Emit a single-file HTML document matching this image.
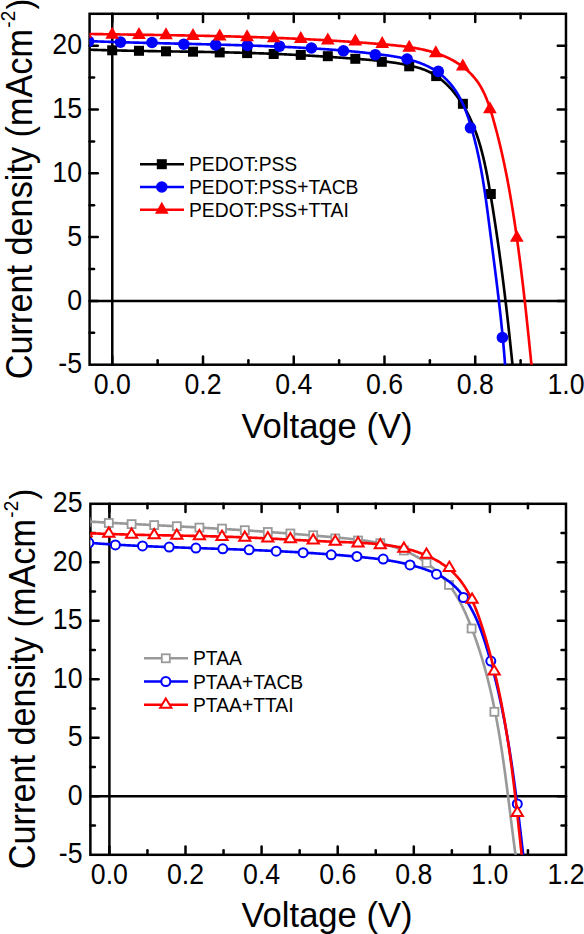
<!DOCTYPE html>
<html><head><meta charset="utf-8"><style>
html,body{margin:0;padding:0;background:#fff;width:584px;height:934px;overflow:hidden}
svg text{font-family:"Liberation Sans", sans-serif;fill:#000}
</style></head><body>
<svg width="584" height="934" viewBox="0 0 584 934" style="position:absolute;left:0;top:0">
<rect width="584" height="934" fill="#fff"/>
<defs><clipPath id="c1"><rect x="89.58" y="13.80" width="476.39" height="350.90"/></clipPath><clipPath id="c2"><rect x="90.38" y="503.80" width="475.62" height="351.00"/></clipPath></defs>
<rect x="89.58" y="13.80" width="476.39" height="350.90" fill="none" stroke="#000" stroke-width="2.5" stroke-linejoin="miter"/>
<line x1="112.27" y1="364.70" x2="112.27" y2="356.50" stroke="#000" stroke-width="2.5" stroke-linecap="round"/>
<line x1="112.27" y1="13.80" x2="112.27" y2="22.00" stroke="#000" stroke-width="2.5" stroke-linecap="round"/>
<line x1="157.64" y1="364.70" x2="157.64" y2="360.20" stroke="#000" stroke-width="2.5" stroke-linecap="round"/>
<line x1="157.64" y1="13.80" x2="157.64" y2="18.30" stroke="#000" stroke-width="2.5" stroke-linecap="round"/>
<line x1="203.01" y1="364.70" x2="203.01" y2="356.50" stroke="#000" stroke-width="2.5" stroke-linecap="round"/>
<line x1="203.01" y1="13.80" x2="203.01" y2="22.00" stroke="#000" stroke-width="2.5" stroke-linecap="round"/>
<line x1="248.38" y1="364.70" x2="248.38" y2="360.20" stroke="#000" stroke-width="2.5" stroke-linecap="round"/>
<line x1="248.38" y1="13.80" x2="248.38" y2="18.30" stroke="#000" stroke-width="2.5" stroke-linecap="round"/>
<line x1="293.75" y1="364.70" x2="293.75" y2="356.50" stroke="#000" stroke-width="2.5" stroke-linecap="round"/>
<line x1="293.75" y1="13.80" x2="293.75" y2="22.00" stroke="#000" stroke-width="2.5" stroke-linecap="round"/>
<line x1="339.12" y1="364.70" x2="339.12" y2="360.20" stroke="#000" stroke-width="2.5" stroke-linecap="round"/>
<line x1="339.12" y1="13.80" x2="339.12" y2="18.30" stroke="#000" stroke-width="2.5" stroke-linecap="round"/>
<line x1="384.49" y1="364.70" x2="384.49" y2="356.50" stroke="#000" stroke-width="2.5" stroke-linecap="round"/>
<line x1="384.49" y1="13.80" x2="384.49" y2="22.00" stroke="#000" stroke-width="2.5" stroke-linecap="round"/>
<line x1="429.86" y1="364.70" x2="429.86" y2="360.20" stroke="#000" stroke-width="2.5" stroke-linecap="round"/>
<line x1="429.86" y1="13.80" x2="429.86" y2="18.30" stroke="#000" stroke-width="2.5" stroke-linecap="round"/>
<line x1="475.23" y1="364.70" x2="475.23" y2="356.50" stroke="#000" stroke-width="2.5" stroke-linecap="round"/>
<line x1="475.23" y1="13.80" x2="475.23" y2="22.00" stroke="#000" stroke-width="2.5" stroke-linecap="round"/>
<line x1="520.60" y1="364.70" x2="520.60" y2="360.20" stroke="#000" stroke-width="2.5" stroke-linecap="round"/>
<line x1="520.60" y1="13.80" x2="520.60" y2="18.30" stroke="#000" stroke-width="2.5" stroke-linecap="round"/>
<line x1="89.58" y1="332.80" x2="94.08" y2="332.80" stroke="#000" stroke-width="2.5" stroke-linecap="round"/>
<line x1="565.97" y1="332.80" x2="561.47" y2="332.80" stroke="#000" stroke-width="2.5" stroke-linecap="round"/>
<line x1="89.58" y1="300.90" x2="97.78" y2="300.90" stroke="#000" stroke-width="2.5" stroke-linecap="round"/>
<line x1="565.97" y1="300.90" x2="557.77" y2="300.90" stroke="#000" stroke-width="2.5" stroke-linecap="round"/>
<line x1="89.58" y1="269.00" x2="94.08" y2="269.00" stroke="#000" stroke-width="2.5" stroke-linecap="round"/>
<line x1="565.97" y1="269.00" x2="561.47" y2="269.00" stroke="#000" stroke-width="2.5" stroke-linecap="round"/>
<line x1="89.58" y1="237.10" x2="97.78" y2="237.10" stroke="#000" stroke-width="2.5" stroke-linecap="round"/>
<line x1="565.97" y1="237.10" x2="557.77" y2="237.10" stroke="#000" stroke-width="2.5" stroke-linecap="round"/>
<line x1="89.58" y1="205.20" x2="94.08" y2="205.20" stroke="#000" stroke-width="2.5" stroke-linecap="round"/>
<line x1="565.97" y1="205.20" x2="561.47" y2="205.20" stroke="#000" stroke-width="2.5" stroke-linecap="round"/>
<line x1="89.58" y1="173.30" x2="97.78" y2="173.30" stroke="#000" stroke-width="2.5" stroke-linecap="round"/>
<line x1="565.97" y1="173.30" x2="557.77" y2="173.30" stroke="#000" stroke-width="2.5" stroke-linecap="round"/>
<line x1="89.58" y1="141.40" x2="94.08" y2="141.40" stroke="#000" stroke-width="2.5" stroke-linecap="round"/>
<line x1="565.97" y1="141.40" x2="561.47" y2="141.40" stroke="#000" stroke-width="2.5" stroke-linecap="round"/>
<line x1="89.58" y1="109.50" x2="97.78" y2="109.50" stroke="#000" stroke-width="2.5" stroke-linecap="round"/>
<line x1="565.97" y1="109.50" x2="557.77" y2="109.50" stroke="#000" stroke-width="2.5" stroke-linecap="round"/>
<line x1="89.58" y1="77.60" x2="94.08" y2="77.60" stroke="#000" stroke-width="2.5" stroke-linecap="round"/>
<line x1="565.97" y1="77.60" x2="561.47" y2="77.60" stroke="#000" stroke-width="2.5" stroke-linecap="round"/>
<line x1="89.58" y1="45.70" x2="97.78" y2="45.70" stroke="#000" stroke-width="2.5" stroke-linecap="round"/>
<line x1="565.97" y1="45.70" x2="557.77" y2="45.70" stroke="#000" stroke-width="2.5" stroke-linecap="round"/>
<g clip-path="url(#c1)">
<line x1="89.58" y1="300.90" x2="565.97" y2="300.90" stroke="#000" stroke-width="2.5"/>
<line x1="112.27" y1="13.80" x2="112.27" y2="364.70" stroke="#000" stroke-width="2.5"/>
<path d="M84.54,49.51 L85.50,49.55 L86.46,49.58 L87.42,49.62 L88.38,49.65 L89.35,49.68 L90.31,49.71 L91.27,49.74 L92.23,49.78 L93.20,49.81 L94.16,49.84 L95.12,49.87 L96.08,49.90 L97.05,49.93 L98.01,49.96 L98.97,49.98 L99.94,50.01 L100.90,50.04 L101.86,50.07 L102.83,50.10 L103.79,50.12 L104.75,50.15 L105.72,50.18 L106.68,50.20 L107.64,50.23 L108.61,50.25 L109.57,50.28 L110.54,50.30 L111.50,50.33 L112.47,50.35 L113.43,50.37 L114.40,50.40 L115.36,50.42 L116.33,50.44 L117.29,50.47 L118.26,50.49 L119.22,50.51 L120.19,50.53 L121.15,50.55 L122.12,50.57 L123.08,50.60 L124.05,50.62 L125.01,50.64 L125.98,50.66 L126.95,50.68 L127.91,50.70 L128.88,50.72 L129.84,50.74 L130.81,50.76 L131.78,50.77 L132.74,50.79 L133.71,50.81 L134.67,50.83 L135.64,50.85 L136.61,50.87 L137.57,50.88 L138.54,50.90 L139.51,50.92 L140.47,50.94 L141.44,50.95 L142.41,50.97 L143.37,50.99 L144.34,51.00 L145.31,51.02 L146.28,51.04 L147.24,51.05 L148.21,51.07 L149.18,51.09 L150.14,51.10 L151.11,51.12 L152.08,51.13 L153.05,51.15 L154.01,51.16 L154.98,51.18 L155.95,51.19 L156.92,51.21 L157.88,51.23 L158.85,51.24 L159.82,51.26 L160.79,51.27 L161.76,51.28 L162.72,51.30 L163.69,51.31 L164.66,51.33 L165.63,51.34 L166.59,51.36 L167.56,51.37 L168.53,51.39 L169.50,51.40 L170.47,51.42 L171.43,51.43 L172.40,51.45 L173.37,51.46 L174.34,51.47 L175.31,51.49 L176.27,51.50 L177.24,51.52 L178.21,51.53 L179.18,51.55 L180.15,51.56 L181.11,51.58 L182.08,51.59 L183.05,51.61 L184.02,51.62 L184.99,51.64 L185.96,51.65 L186.92,51.67 L187.89,51.68 L188.86,51.70 L189.83,51.71 L190.80,51.73 L191.76,51.74 L192.73,51.76 L193.70,51.77 L194.67,51.79 L195.64,51.80 L196.60,51.82 L197.57,51.84 L198.54,51.85 L199.51,51.87 L200.48,51.88 L201.44,51.90 L202.41,51.92 L203.38,51.93 L204.35,51.95 L205.31,51.97 L206.28,51.98 L207.25,52.00 L208.22,52.02 L209.18,52.04 L210.15,52.05 L211.12,52.07 L212.09,52.09 L213.06,52.11 L214.02,52.13 L214.99,52.15 L215.96,52.17 L216.92,52.18 L217.89,52.20 L218.86,52.22 L219.83,52.24 L220.79,52.26 L221.76,52.28 L222.73,52.30 L223.69,52.33 L224.66,52.35 L225.63,52.37 L226.60,52.39 L227.56,52.41 L228.53,52.43 L229.50,52.46 L230.46,52.48 L231.43,52.50 L232.40,52.52 L233.36,52.55 L234.33,52.57 L235.29,52.60 L236.26,52.62 L237.23,52.64 L238.19,52.67 L239.16,52.69 L240.12,52.72 L241.09,52.75 L242.06,52.77 L243.02,52.80 L243.99,52.83 L244.95,52.85 L245.92,52.88 L246.88,52.91 L247.85,52.94 L248.81,52.97 L249.78,52.99 L250.74,53.02 L251.71,53.05 L252.67,53.08 L253.64,53.11 L254.60,53.15 L255.57,53.18 L256.53,53.21 L257.50,53.24 L258.46,53.27 L259.43,53.31 L260.39,53.34 L261.35,53.37 L262.32,53.41 L263.28,53.44 L264.24,53.48 L265.21,53.51 L266.17,53.55 L267.13,53.59 L268.10,53.62 L269.06,53.66 L270.02,53.70 L270.99,53.74 L271.95,53.78 L272.91,53.82 L273.87,53.86 L274.84,53.90 L275.80,53.94 L276.76,53.98 L277.72,54.02 L278.69,54.06 L279.65,54.10 L280.61,54.15 L281.57,54.19 L282.53,54.24 L283.49,54.28 L284.46,54.33 L285.42,54.37 L286.38,54.42 L287.34,54.46 L288.30,54.51 L289.26,54.56 L290.22,54.61 L291.18,54.65 L292.14,54.70 L293.11,54.75 L294.07,54.80 L295.03,54.85 L295.99,54.90 L296.95,54.95 L297.91,55.00 L298.87,55.06 L299.83,55.11 L300.79,55.16 L301.76,55.21 L302.72,55.27 L303.68,55.32 L304.64,55.38 L305.60,55.43 L306.56,55.49 L307.52,55.54 L308.48,55.60 L309.44,55.65 L310.41,55.71 L311.37,55.77 L312.33,55.82 L313.29,55.88 L314.25,55.94 L315.21,56.00 L316.18,56.06 L317.14,56.12 L318.10,56.18 L319.06,56.24 L320.02,56.30 L320.99,56.36 L321.95,56.42 L322.91,56.48 L323.87,56.54 L324.84,56.61 L325.80,56.67 L326.76,56.73 L327.73,56.80 L328.69,56.86 L329.65,56.92 L330.62,56.99 L331.58,57.05 L332.55,57.12 L333.51,57.19 L334.48,57.25 L335.44,57.32 L336.41,57.38 L337.37,57.45 L338.34,57.52 L339.30,57.59 L340.27,57.65 L341.23,57.72 L342.20,57.79 L343.17,57.86 L344.13,57.93 L345.10,58.00 L346.07,58.07 L347.03,58.14 L348.00,58.21 L348.97,58.28 L349.94,58.35 L350.91,58.42 L351.87,58.49 L352.84,58.57 L353.81,58.64 L354.78,58.71 L355.75,58.78 L356.72,58.86 L357.69,58.93 L358.66,59.00 L359.63,59.08 L360.61,59.15 L361.58,59.23 L362.55,59.31 L363.52,59.38 L364.49,59.46 L365.46,59.54 L366.43,59.62 L367.41,59.70 L368.38,59.79 L369.35,59.87 L370.32,59.96 L371.29,60.04 L372.26,60.13 L373.24,60.22 L374.21,60.31 L375.18,60.41 L376.15,60.50 L377.12,60.60 L378.09,60.70 L379.06,60.80 L380.03,60.90 L381.00,61.01 L381.97,61.12 L382.94,61.23 L383.91,61.34 L384.88,61.46 L385.84,61.57 L386.81,61.69 L387.78,61.82 L388.75,61.94 L389.71,62.07 L390.68,62.20 L391.64,62.34 L392.61,62.48 L393.57,62.62 L394.53,62.76 L395.50,62.91 L396.46,63.06 L397.42,63.22 L398.38,63.38 L399.34,63.54 L400.30,63.70 L401.26,63.87 L402.22,64.05 L403.17,64.22 L404.13,64.40 L405.08,64.59 L406.04,64.78 L406.99,64.97 L407.94,65.17 L408.90,65.37 L409.85,65.58 L410.80,65.79 L411.74,66.01 L412.69,66.23 L413.63,66.46 L414.57,66.69 L415.51,66.94 L416.45,67.19 L417.38,67.45 L418.31,67.71 L419.23,67.99 L420.15,68.28 L421.06,68.57 L421.97,68.88 L422.87,69.20 L423.77,69.53 L424.66,69.88 L425.54,70.23 L426.41,70.61 L427.28,70.99 L428.14,71.39 L428.99,71.80 L429.84,72.22 L430.68,72.65 L431.51,73.10 L432.33,73.56 L433.15,74.03 L433.96,74.52 L434.76,75.01 L435.55,75.52 L436.34,76.04 L437.12,76.56 L437.89,77.10 L438.66,77.65 L439.42,78.22 L440.17,78.79 L440.92,79.37 L441.66,79.96 L442.39,80.56 L443.11,81.17 L443.83,81.79 L444.54,82.42 L445.24,83.05 L445.94,83.70 L446.63,84.36 L447.31,85.02 L447.99,85.69 L448.66,86.37 L449.32,87.06 L449.97,87.75 L450.62,88.46 L451.26,89.17 L451.90,89.88 L452.52,90.61 L453.14,91.34 L453.76,92.07 L454.37,92.82 L454.97,93.57 L455.56,94.32 L456.15,95.08 L456.73,95.85 L457.30,96.62 L457.87,97.40 L458.43,98.18 L458.98,98.97 L459.53,99.76 L460.07,100.55 L460.61,101.35 L461.13,102.16 L461.66,102.96 L462.17,103.78 L462.68,104.59 L463.18,105.41 L463.68,106.23 L464.16,107.06 L464.65,107.89 L465.12,108.72 L465.59,109.55 L466.06,110.39 L466.51,111.23 L466.97,112.08 L467.41,112.92 L467.85,113.77 L468.29,114.63 L468.72,115.48 L469.14,116.34 L469.56,117.20 L469.97,118.07 L470.37,118.94 L470.77,119.81 L471.17,120.68 L471.56,121.55 L471.94,122.43 L472.32,123.31 L472.70,124.20 L473.07,125.08 L473.43,125.97 L473.79,126.86 L474.15,127.75 L474.50,128.65 L474.84,129.55 L475.18,130.45 L475.52,131.35 L475.85,132.25 L476.17,133.16 L476.50,134.07 L476.81,134.98 L477.13,135.89 L477.44,136.81 L477.74,137.73 L478.04,138.64 L478.34,139.56 L478.63,140.49 L478.92,141.41 L479.20,142.34 L479.48,143.27 L479.76,144.20 L480.03,145.13 L480.30,146.06 L480.57,146.99 L480.83,147.93 L481.09,148.87 L481.34,149.81 L481.59,150.75 L481.84,151.69 L482.09,152.63 L482.33,153.57 L482.57,154.52 L482.80,155.47 L483.04,156.42 L483.27,157.36 L483.49,158.31 L483.72,159.27 L483.94,160.22 L484.16,161.17 L484.37,162.13 L484.59,163.08 L484.80,164.04 L485.00,164.99 L485.21,165.95 L485.41,166.91 L485.62,167.87 L485.81,168.83 L486.01,169.79 L486.21,170.75 L486.40,171.71 L486.59,172.68 L486.78,173.64 L486.96,174.60 L487.15,175.57 L487.33,176.53 L487.51,177.50 L487.69,178.46 L487.87,179.43 L488.05,180.39 L488.23,181.36 L488.40,182.32 L488.57,183.29 L488.74,184.25 L488.91,185.22 L489.08,186.19 L489.25,187.15 L489.42,188.12 L489.58,189.08 L489.75,190.05 L489.91,191.02 L490.08,191.98 L490.24,192.95 L490.40,193.91 L490.56,194.87 L490.73,195.84 L490.89,196.80 L491.05,197.76 L491.21,198.73 L491.36,199.69 L491.52,200.65 L491.68,201.61 L491.84,202.58 L491.99,203.54 L492.15,204.50 L492.31,205.46 L492.46,206.42 L492.61,207.38 L492.77,208.34 L492.92,209.30 L493.07,210.26 L493.23,211.22 L493.38,212.17 L493.53,213.13 L493.68,214.09 L493.83,215.05 L493.98,216.01 L494.13,216.96 L494.28,217.92 L494.43,218.88 L494.57,219.83 L494.72,220.79 L494.87,221.75 L495.01,222.70 L495.16,223.66 L495.30,224.61 L495.45,225.57 L495.59,226.52 L495.74,227.48 L495.88,228.43 L496.02,229.39 L496.16,230.34 L496.30,231.30 L496.45,232.25 L496.59,233.20 L496.73,234.16 L496.87,235.11 L497.00,236.06 L497.14,237.02 L497.28,237.97 L497.42,238.92 L497.56,239.87 L497.69,240.83 L497.83,241.78 L497.97,242.73 L498.10,243.68 L498.24,244.64 L498.37,245.59 L498.51,246.54 L498.64,247.49 L498.77,248.44 L498.91,249.39 L499.04,250.34 L499.17,251.30 L499.30,252.25 L499.43,253.20 L499.56,254.15 L499.69,255.10 L499.82,256.05 L499.95,257.00 L500.08,257.95 L500.21,258.90 L500.34,259.85 L500.47,260.80 L500.60,261.76 L500.72,262.71 L500.85,263.66 L500.98,264.61 L501.10,265.56 L501.23,266.51 L501.35,267.46 L501.48,268.41 L501.60,269.36 L501.72,270.31 L501.85,271.26 L501.97,272.21 L502.09,273.16 L502.22,274.11 L502.34,275.06 L502.46,276.01 L502.58,276.96 L502.70,277.91 L502.82,278.86 L502.94,279.82 L503.06,280.77 L503.18,281.72 L503.30,282.67 L503.42,283.62 L503.54,284.57 L503.66,285.52 L503.78,286.47 L503.89,287.42 L504.01,288.37 L504.13,289.33 L504.24,290.28 L504.36,291.23 L504.48,292.18 L504.59,293.13 L504.71,294.08 L504.82,295.04 L504.94,295.99 L505.05,296.94 L505.16,297.89 L505.28,298.85 L505.39,299.80 L505.50,300.75 L505.62,301.71 L505.73,302.66 L505.84,303.61 L505.95,304.57 L506.07,305.52 L506.18,306.47 L506.29,307.43 L506.40,308.38 L506.51,309.34 L506.62,310.29 L506.73,311.25 L506.84,312.20 L506.95,313.16 L507.06,314.11 L507.17,315.07 L507.27,316.02 L507.38,316.98 L507.49,317.94 L507.60,318.89 L507.71,319.85 L507.81,320.81 L507.92,321.76 L508.03,322.72 L508.13,323.68 L508.24,324.64 L508.35,325.60 L508.45,326.56 L508.56,327.51 L508.66,328.47 L508.77,329.43 L508.87,330.39 L508.98,331.35 L509.08,332.31 L509.19,333.27 L509.29,334.24 L509.40,335.20 L509.50,336.16 L509.60,337.12 L509.71,338.08 L509.81,339.05 L509.91,340.01 L510.01,340.97 L510.12,341.94 L510.22,342.90 L510.32,343.86 L510.42,344.83 L510.53,345.79 L510.63,346.76 L510.73,347.73 L510.83,348.69 L510.93,349.66 L511.03,350.63 L511.13,351.59 L511.23,352.56 L511.33,353.53 L511.43,354.50 L511.53,355.47 L511.63,356.44 L511.73,357.41 L511.83,358.38 L511.93,359.35 L512.03,360.32 L512.13,361.29 L512.23,362.26 L512.33,363.23 L512.43,364.21 L512.52,365.18 L512.62,366.15 L512.72,367.13 L512.82,368.10 L512.92,369.08 L513.02,370.05 L513.11,371.03 L513.21,372.01 L513.31,372.98 L513.41,373.96 L513.50,374.94 L513.60,375.92 L513.70,376.90 L513.79,377.88 L513.89,378.86 L513.99,379.84" fill="none" stroke="#000" stroke-width="2.65"/>
<rect x="80.20" y="45.00" width="10" height="10" fill="#000" stroke="none" stroke-width="0"/>
<rect x="107.20" y="45.30" width="10" height="10" fill="#000" stroke="none" stroke-width="0"/>
<rect x="134.00" y="45.80" width="10" height="10" fill="#000" stroke="none" stroke-width="0"/>
<rect x="161.00" y="46.30" width="10" height="10" fill="#000" stroke="none" stroke-width="0"/>
<rect x="188.00" y="46.70" width="10" height="10" fill="#000" stroke="none" stroke-width="0"/>
<rect x="214.70" y="47.40" width="10" height="10" fill="#000" stroke="none" stroke-width="0"/>
<rect x="242.10" y="48.10" width="10" height="10" fill="#000" stroke="none" stroke-width="0"/>
<rect x="268.70" y="49.00" width="10" height="10" fill="#000" stroke="none" stroke-width="0"/>
<rect x="295.80" y="49.90" width="10" height="10" fill="#000" stroke="none" stroke-width="0"/>
<rect x="322.80" y="51.20" width="10" height="10" fill="#000" stroke="none" stroke-width="0"/>
<rect x="350.30" y="53.80" width="10" height="10" fill="#000" stroke="none" stroke-width="0"/>
<rect x="376.80" y="56.80" width="10" height="10" fill="#000" stroke="none" stroke-width="0"/>
<rect x="404.20" y="61.30" width="10" height="10" fill="#000" stroke="none" stroke-width="0"/>
<rect x="431.20" y="71.10" width="10" height="10" fill="#000" stroke="none" stroke-width="0"/>
<rect x="457.90" y="98.80" width="10" height="10" fill="#000" stroke="none" stroke-width="0"/>
<rect x="485.80" y="189.00" width="10" height="10" fill="#000" stroke="none" stroke-width="0"/>
<path d="M84.57,40.97 L85.53,41.00 L86.49,41.04 L87.45,41.08 L88.41,41.12 L89.37,41.15 L90.34,41.19 L91.30,41.22 L92.26,41.26 L93.22,41.30 L94.19,41.33 L95.15,41.37 L96.11,41.40 L97.08,41.43 L98.04,41.47 L99.00,41.50 L99.97,41.54 L100.93,41.57 L101.90,41.60 L102.86,41.63 L103.83,41.67 L104.79,41.70 L105.76,41.73 L106.72,41.76 L107.69,41.79 L108.66,41.82 L109.62,41.86 L110.59,41.89 L111.56,41.92 L112.52,41.95 L113.49,41.98 L114.46,42.01 L115.42,42.04 L116.39,42.07 L117.36,42.09 L118.33,42.12 L119.29,42.15 L120.26,42.18 L121.23,42.21 L122.20,42.24 L123.17,42.26 L124.14,42.29 L125.11,42.32 L126.08,42.35 L127.05,42.37 L128.01,42.40 L128.98,42.43 L129.95,42.46 L130.92,42.48 L131.89,42.51 L132.86,42.53 L133.83,42.56 L134.81,42.59 L135.78,42.61 L136.75,42.64 L137.72,42.66 L138.69,42.69 L139.66,42.71 L140.63,42.74 L141.60,42.76 L142.57,42.79 L143.54,42.81 L144.52,42.84 L145.49,42.86 L146.46,42.89 L147.43,42.91 L148.40,42.93 L149.38,42.96 L150.35,42.98 L151.32,43.01 L152.29,43.03 L153.26,43.05 L154.24,43.08 L155.21,43.10 L156.18,43.12 L157.16,43.15 L158.13,43.17 L159.10,43.19 L160.07,43.22 L161.05,43.24 L162.02,43.26 L162.99,43.29 L163.97,43.31 L164.94,43.33 L165.91,43.35 L166.89,43.38 L167.86,43.40 L168.83,43.42 L169.81,43.44 L170.78,43.47 L171.75,43.49 L172.73,43.51 L173.70,43.54 L174.67,43.56 L175.65,43.58 L176.62,43.60 L177.59,43.63 L178.57,43.65 L179.54,43.67 L180.52,43.69 L181.49,43.72 L182.46,43.74 L183.44,43.76 L184.41,43.78 L185.38,43.81 L186.36,43.83 L187.33,43.85 L188.31,43.88 L189.28,43.90 L190.25,43.92 L191.23,43.94 L192.20,43.97 L193.17,43.99 L194.15,44.01 L195.12,44.04 L196.10,44.06 L197.07,44.08 L198.04,44.11 L199.02,44.13 L199.99,44.15 L200.96,44.18 L201.94,44.20 L202.91,44.22 L203.88,44.25 L204.86,44.27 L205.83,44.30 L206.80,44.32 L207.78,44.34 L208.75,44.37 L209.72,44.39 L210.69,44.42 L211.67,44.44 L212.64,44.47 L213.61,44.49 L214.59,44.52 L215.56,44.54 L216.53,44.57 L217.50,44.59 L218.48,44.62 L219.45,44.64 L220.42,44.67 L221.39,44.70 L222.36,44.72 L223.34,44.75 L224.31,44.78 L225.28,44.80 L226.25,44.83 L227.22,44.86 L228.19,44.88 L229.16,44.91 L230.14,44.94 L231.11,44.97 L232.08,44.99 L233.05,45.02 L234.02,45.05 L234.99,45.08 L235.96,45.11 L236.93,45.14 L237.90,45.17 L238.87,45.19 L239.84,45.22 L240.81,45.25 L241.78,45.28 L242.75,45.31 L243.72,45.35 L244.69,45.38 L245.66,45.41 L246.63,45.44 L247.59,45.47 L248.56,45.50 L249.53,45.53 L250.50,45.57 L251.47,45.60 L252.44,45.63 L253.40,45.66 L254.37,45.70 L255.34,45.73 L256.30,45.76 L257.27,45.80 L258.24,45.83 L259.21,45.87 L260.17,45.90 L261.14,45.94 L262.10,45.97 L263.07,46.01 L264.04,46.04 L265.00,46.08 L265.97,46.12 L266.93,46.15 L267.90,46.19 L268.86,46.23 L269.82,46.27 L270.79,46.31 L271.75,46.34 L272.72,46.38 L273.68,46.42 L274.64,46.46 L275.61,46.50 L276.57,46.54 L277.53,46.58 L278.49,46.62 L279.46,46.67 L280.42,46.71 L281.38,46.75 L282.34,46.79 L283.30,46.84 L284.26,46.88 L285.22,46.92 L286.18,46.97 L287.15,47.01 L288.11,47.06 L289.07,47.10 L290.03,47.15 L290.99,47.19 L291.95,47.24 L292.90,47.29 L293.86,47.33 L294.82,47.38 L295.78,47.43 L296.74,47.48 L297.70,47.53 L298.66,47.58 L299.62,47.63 L300.58,47.68 L301.54,47.73 L302.50,47.79 L303.46,47.84 L304.42,47.89 L305.38,47.95 L306.33,48.00 L307.29,48.06 L308.25,48.11 L309.21,48.17 L310.17,48.22 L311.13,48.28 L312.09,48.34 L313.05,48.40 L314.01,48.46 L314.97,48.52 L315.93,48.58 L316.89,48.64 L317.85,48.70 L318.81,48.76 L319.78,48.83 L320.74,48.89 L321.70,48.96 L322.66,49.02 L323.62,49.09 L324.58,49.16 L325.55,49.22 L326.51,49.29 L327.47,49.36 L328.43,49.43 L329.40,49.50 L330.36,49.57 L331.33,49.65 L332.29,49.72 L333.25,49.79 L334.22,49.87 L335.19,49.94 L336.15,50.02 L337.12,50.10 L338.08,50.18 L339.05,50.25 L340.02,50.33 L340.99,50.41 L341.95,50.50 L342.92,50.58 L343.89,50.66 L344.86,50.75 L345.83,50.83 L346.80,50.92 L347.77,51.00 L348.74,51.09 L349.72,51.18 L350.69,51.27 L351.66,51.36 L352.64,51.45 L353.61,51.55 L354.59,51.64 L355.56,51.73 L356.54,51.83 L357.51,51.93 L358.49,52.02 L359.47,52.12 L360.45,52.22 L361.43,52.32 L362.41,52.42 L363.39,52.53 L364.37,52.63 L365.35,52.74 L366.33,52.84 L367.31,52.95 L368.30,53.06 L369.28,53.17 L370.27,53.28 L371.25,53.39 L372.24,53.50 L373.23,53.62 L374.22,53.73 L375.21,53.85 L376.20,53.96 L377.19,54.08 L378.18,54.20 L379.17,54.32 L380.16,54.45 L381.15,54.57 L382.15,54.70 L383.14,54.83 L384.13,54.96 L385.12,55.10 L386.11,55.23 L387.10,55.37 L388.09,55.51 L389.08,55.66 L390.07,55.81 L391.06,55.96 L392.05,56.12 L393.03,56.28 L394.01,56.44 L395.00,56.61 L395.98,56.78 L396.95,56.95 L397.93,57.13 L398.91,57.32 L399.88,57.51 L400.85,57.70 L401.82,57.90 L402.78,58.11 L403.74,58.32 L404.70,58.53 L405.66,58.75 L406.61,58.98 L407.56,59.21 L408.51,59.45 L409.46,59.69 L410.40,59.95 L411.33,60.20 L412.27,60.47 L413.20,60.74 L414.12,61.02 L415.04,61.30 L415.96,61.60 L416.87,61.90 L417.78,62.20 L418.68,62.52 L419.58,62.84 L420.47,63.18 L421.36,63.51 L422.24,63.86 L423.12,64.22 L423.99,64.58 L424.86,64.96 L425.72,65.34 L426.58,65.73 L427.43,66.13 L428.27,66.54 L429.11,66.96 L429.94,67.39 L430.76,67.83 L431.58,68.28 L432.39,68.74 L433.20,69.21 L433.99,69.69 L434.78,70.19 L435.57,70.69 L436.34,71.20 L437.11,71.72 L437.87,72.26 L438.63,72.80 L439.37,73.36 L440.11,73.93 L440.84,74.51 L441.56,75.10 L442.28,75.70 L442.99,76.31 L443.69,76.93 L444.38,77.56 L445.06,78.21 L445.73,78.86 L446.40,79.52 L447.06,80.19 L447.71,80.87 L448.35,81.56 L448.99,82.26 L449.61,82.96 L450.23,83.68 L450.84,84.40 L451.44,85.14 L452.03,85.88 L452.62,86.63 L453.19,87.39 L453.76,88.15 L454.32,88.93 L454.87,89.71 L455.41,90.50 L455.94,91.29 L456.47,92.10 L456.98,92.91 L457.49,93.73 L457.98,94.55 L458.47,95.38 L458.95,96.22 L459.42,97.06 L459.89,97.91 L460.34,98.77 L460.79,99.63 L461.23,100.49 L461.66,101.37 L462.08,102.24 L462.50,103.12 L462.90,104.01 L463.30,104.90 L463.70,105.80 L464.09,106.70 L464.47,107.60 L464.84,108.51 L465.21,109.42 L465.57,110.34 L465.93,111.26 L466.28,112.18 L466.62,113.11 L466.96,114.03 L467.30,114.97 L467.62,115.90 L467.95,116.83 L468.27,117.77 L468.58,118.71 L468.89,119.65 L469.20,120.59 L469.50,121.54 L469.80,122.48 L470.09,123.43 L470.38,124.38 L470.67,125.33 L470.95,126.27 L471.23,127.22 L471.50,128.17 L471.78,129.12 L472.05,130.07 L472.32,131.02 L472.58,131.97 L472.85,132.92 L473.11,133.87 L473.36,134.82 L473.62,135.77 L473.87,136.72 L474.12,137.67 L474.36,138.62 L474.61,139.57 L474.85,140.52 L475.08,141.47 L475.32,142.42 L475.55,143.37 L475.78,144.32 L476.01,145.27 L476.24,146.22 L476.46,147.17 L476.68,148.12 L476.90,149.07 L477.12,150.02 L477.33,150.97 L477.54,151.93 L477.75,152.88 L477.96,153.83 L478.17,154.78 L478.37,155.73 L478.57,156.68 L478.77,157.63 L478.97,158.59 L479.16,159.54 L479.35,160.49 L479.55,161.44 L479.73,162.40 L479.92,163.35 L480.11,164.30 L480.29,165.25 L480.47,166.21 L480.65,167.16 L480.83,168.11 L481.00,169.06 L481.18,170.02 L481.35,170.97 L481.52,171.92 L481.69,172.88 L481.86,173.83 L482.03,174.78 L482.19,175.74 L482.35,176.69 L482.52,177.64 L482.68,178.60 L482.84,179.55 L482.99,180.51 L483.15,181.46 L483.30,182.41 L483.46,183.37 L483.61,184.32 L483.76,185.28 L483.91,186.23 L484.06,187.19 L484.21,188.14 L484.35,189.10 L484.50,190.05 L484.64,191.01 L484.78,191.96 L484.92,192.92 L485.07,193.87 L485.21,194.83 L485.34,195.78 L485.48,196.74 L485.62,197.70 L485.76,198.65 L485.89,199.61 L486.03,200.56 L486.16,201.52 L486.29,202.48 L486.42,203.43 L486.56,204.39 L486.69,205.35 L486.82,206.30 L486.95,207.26 L487.08,208.22 L487.21,209.17 L487.33,210.13 L487.46,211.09 L487.59,212.05 L487.72,213.00 L487.84,213.96 L487.97,214.92 L488.09,215.88 L488.22,216.83 L488.34,217.79 L488.47,218.75 L488.59,219.71 L488.72,220.67 L488.84,221.62 L488.96,222.58 L489.09,223.54 L489.21,224.50 L489.34,225.46 L489.46,226.42 L489.58,227.38 L489.71,228.34 L489.83,229.30 L489.95,230.26 L490.08,231.21 L490.20,232.17 L490.33,233.13 L490.45,234.09 L490.57,235.05 L490.70,236.01 L490.82,236.97 L490.95,237.93 L491.07,238.89 L491.20,239.85 L491.32,240.82 L491.45,241.78 L491.57,242.74 L491.70,243.70 L491.82,244.66 L491.94,245.62 L492.07,246.58 L492.19,247.54 L492.32,248.50 L492.44,249.46 L492.57,250.43 L492.69,251.39 L492.82,252.35 L492.94,253.31 L493.06,254.27 L493.19,255.23 L493.31,256.20 L493.44,257.16 L493.56,258.12 L493.68,259.08 L493.81,260.04 L493.93,261.01 L494.05,261.97 L494.18,262.93 L494.30,263.89 L494.42,264.86 L494.55,265.82 L494.67,266.78 L494.79,267.75 L494.91,268.71 L495.04,269.67 L495.16,270.64 L495.28,271.60 L495.40,272.56 L495.52,273.53 L495.64,274.49 L495.77,275.45 L495.89,276.42 L496.01,277.38 L496.13,278.34 L496.25,279.31 L496.37,280.27 L496.49,281.23 L496.61,282.20 L496.72,283.16 L496.84,284.13 L496.96,285.09 L497.08,286.05 L497.20,287.02 L497.32,287.98 L497.43,288.95 L497.55,289.91 L497.67,290.88 L497.78,291.84 L497.90,292.81 L498.01,293.77 L498.13,294.74 L498.24,295.70 L498.36,296.66 L498.47,297.63 L498.59,298.59 L498.70,299.56 L498.81,300.52 L498.92,301.49 L499.04,302.45 L499.15,303.42 L499.26,304.39 L499.37,305.35 L499.48,306.32 L499.59,307.28 L499.70,308.25 L499.81,309.21 L499.92,310.18 L500.02,311.14 L500.13,312.11 L500.24,313.07 L500.34,314.04 L500.45,315.00 L500.56,315.97 L500.66,316.94 L500.77,317.90 L500.87,318.87 L500.97,319.83 L501.08,320.80 L501.18,321.77 L501.28,322.73 L501.38,323.70 L501.48,324.66 L501.58,325.63 L501.68,326.59 L501.78,327.56 L501.88,328.53 L501.98,329.49 L502.07,330.46 L502.17,331.43 L502.26,332.39 L502.36,333.36 L502.45,334.32 L502.55,335.29 L502.64,336.26 L502.73,337.22 L502.83,338.19 L502.92,339.15 L503.01,340.12 L503.10,341.09 L503.19,342.05 L503.27,343.02 L503.36,343.99 L503.45,344.95 L503.53,345.92 L503.62,346.88 L503.70,347.85 L503.79,348.82 L503.87,349.78 L503.95,350.75 L504.04,351.72 L504.12,352.68 L504.20,353.65 L504.28,354.62 L504.35,355.58 L504.43,356.55 L504.51,357.51 L504.59,358.48 L504.66,359.45 L504.74,360.41 L504.81,361.38 L504.88,362.35 L504.95,363.31 L505.02,364.28 L505.09,365.25 L505.16,366.21 L505.23,367.18 L505.30,368.14 L505.37,369.11 L505.43,370.08 L505.50,371.04 L505.56,372.01 L505.62,372.98 L505.69,373.94 L505.75,374.91 L505.81,375.87 L505.87,376.84 L505.93,377.81 L505.98,378.77 L506.04,379.74" fill="none" stroke="#0000ff" stroke-width="2.65"/>
<circle cx="88.70" cy="41.30" r="5.8" fill="#0000ff" stroke="none" stroke-width="0"/>
<circle cx="120.50" cy="42.10" r="5.8" fill="#0000ff" stroke="none" stroke-width="0"/>
<circle cx="152.00" cy="42.50" r="5.8" fill="#0000ff" stroke="none" stroke-width="0"/>
<circle cx="183.80" cy="44.20" r="5.8" fill="#0000ff" stroke="none" stroke-width="0"/>
<circle cx="215.60" cy="44.90" r="5.8" fill="#0000ff" stroke="none" stroke-width="0"/>
<circle cx="247.40" cy="45.50" r="5.8" fill="#0000ff" stroke="none" stroke-width="0"/>
<circle cx="279.50" cy="46.20" r="5.8" fill="#0000ff" stroke="none" stroke-width="0"/>
<circle cx="311.40" cy="48.00" r="5.8" fill="#0000ff" stroke="none" stroke-width="0"/>
<circle cx="343.40" cy="50.80" r="5.8" fill="#0000ff" stroke="none" stroke-width="0"/>
<circle cx="375.30" cy="54.70" r="5.8" fill="#0000ff" stroke="none" stroke-width="0"/>
<circle cx="407.10" cy="59.00" r="5.8" fill="#0000ff" stroke="none" stroke-width="0"/>
<circle cx="438.30" cy="71.40" r="5.8" fill="#0000ff" stroke="none" stroke-width="0"/>
<circle cx="470.50" cy="127.80" r="5.8" fill="#0000ff" stroke="none" stroke-width="0"/>
<circle cx="502.40" cy="337.50" r="5.8" fill="#0000ff" stroke="none" stroke-width="0"/>
<path d="M84.34,33.89 L85.37,33.91 L86.41,33.93 L87.44,33.95 L88.47,33.96 L89.50,33.98 L90.53,34.00 L91.56,34.01 L92.59,34.03 L93.62,34.05 L94.64,34.06 L95.67,34.08 L96.70,34.09 L97.73,34.11 L98.76,34.13 L99.78,34.14 L100.81,34.16 L101.84,34.17 L102.86,34.19 L103.89,34.21 L104.91,34.22 L105.94,34.24 L106.96,34.25 L107.99,34.27 L109.01,34.28 L110.04,34.30 L111.06,34.31 L112.08,34.33 L113.11,34.34 L114.13,34.36 L115.15,34.38 L116.18,34.39 L117.20,34.41 L118.22,34.42 L119.24,34.44 L120.26,34.45 L121.28,34.47 L122.30,34.48 L123.32,34.49 L124.34,34.51 L125.36,34.52 L126.38,34.54 L127.40,34.55 L128.42,34.57 L129.44,34.58 L130.46,34.60 L131.48,34.61 L132.50,34.63 L133.51,34.64 L134.53,34.66 L135.55,34.67 L136.57,34.69 L137.58,34.70 L138.60,34.72 L139.62,34.73 L140.63,34.75 L141.65,34.76 L142.66,34.78 L143.68,34.79 L144.69,34.81 L145.71,34.82 L146.72,34.84 L147.74,34.85 L148.75,34.87 L149.77,34.88 L150.78,34.90 L151.80,34.91 L152.81,34.93 L153.82,34.94 L154.84,34.96 L155.85,34.97 L156.86,34.99 L157.88,35.00 L158.89,35.02 L159.90,35.04 L160.91,35.05 L161.93,35.07 L162.94,35.08 L163.95,35.10 L164.96,35.12 L165.97,35.13 L166.98,35.15 L167.99,35.16 L169.01,35.18 L170.02,35.20 L171.03,35.21 L172.04,35.23 L173.05,35.25 L174.06,35.26 L175.07,35.28 L176.08,35.30 L177.09,35.31 L178.10,35.33 L179.11,35.35 L180.12,35.37 L181.13,35.38 L182.13,35.40 L183.14,35.42 L184.15,35.44 L185.16,35.45 L186.17,35.47 L187.18,35.49 L188.19,35.51 L189.19,35.53 L190.20,35.55 L191.21,35.57 L192.22,35.58 L193.23,35.60 L194.23,35.62 L195.24,35.64 L196.25,35.66 L197.26,35.68 L198.26,35.70 L199.27,35.72 L200.28,35.74 L201.29,35.76 L202.29,35.78 L203.30,35.80 L204.31,35.82 L205.31,35.84 L206.32,35.86 L207.33,35.89 L208.33,35.91 L209.34,35.93 L210.35,35.95 L211.35,35.97 L212.36,36.00 L213.37,36.02 L214.37,36.04 L215.38,36.06 L216.39,36.09 L217.39,36.11 L218.40,36.13 L219.40,36.16 L220.41,36.18 L221.42,36.20 L222.42,36.23 L223.43,36.25 L224.43,36.28 L225.44,36.30 L226.44,36.33 L227.45,36.35 L228.46,36.38 L229.46,36.40 L230.47,36.43 L231.47,36.45 L232.48,36.48 L233.49,36.51 L234.49,36.53 L235.50,36.56 L236.50,36.59 L237.51,36.62 L238.51,36.64 L239.52,36.67 L240.53,36.70 L241.53,36.73 L242.54,36.76 L243.54,36.79 L244.55,36.82 L245.56,36.85 L246.56,36.88 L247.57,36.91 L248.57,36.94 L249.58,36.97 L250.58,37.00 L251.59,37.03 L252.60,37.06 L253.60,37.09 L254.61,37.12 L255.62,37.16 L256.62,37.19 L257.63,37.22 L258.63,37.26 L259.64,37.29 L260.65,37.32 L261.65,37.36 L262.66,37.39 L263.67,37.43 L264.67,37.46 L265.68,37.50 L266.69,37.53 L267.69,37.57 L268.70,37.61 L269.71,37.64 L270.72,37.68 L271.72,37.72 L272.73,37.75 L273.74,37.79 L274.75,37.83 L275.75,37.87 L276.76,37.91 L277.77,37.95 L278.78,37.99 L279.79,38.03 L280.79,38.07 L281.80,38.11 L282.81,38.15 L283.82,38.19 L284.83,38.23 L285.84,38.27 L286.84,38.32 L287.85,38.36 L288.86,38.40 L289.87,38.45 L290.88,38.49 L291.89,38.53 L292.90,38.58 L293.91,38.62 L294.92,38.67 L295.93,38.71 L296.94,38.76 L297.95,38.81 L298.96,38.85 L299.97,38.90 L300.98,38.95 L301.99,39.00 L303.00,39.05 L304.02,39.09 L305.03,39.14 L306.04,39.19 L307.05,39.24 L308.06,39.29 L309.07,39.35 L310.09,39.40 L311.10,39.45 L312.11,39.50 L313.12,39.55 L314.14,39.61 L315.15,39.66 L316.16,39.71 L317.18,39.77 L318.19,39.82 L319.20,39.88 L320.22,39.93 L321.23,39.99 L322.25,40.05 L323.26,40.10 L324.28,40.16 L325.29,40.22 L326.31,40.28 L327.32,40.34 L328.34,40.39 L329.35,40.45 L330.37,40.51 L331.39,40.57 L332.40,40.64 L333.42,40.70 L334.44,40.76 L335.46,40.82 L336.47,40.88 L337.49,40.95 L338.51,41.01 L339.53,41.08 L340.55,41.14 L341.56,41.21 L342.58,41.27 L343.60,41.34 L344.62,41.41 L345.64,41.47 L346.66,41.54 L347.68,41.61 L348.70,41.68 L349.72,41.75 L350.75,41.82 L351.77,41.89 L352.79,41.96 L353.81,42.03 L354.83,42.10 L355.86,42.17 L356.88,42.25 L357.90,42.32 L358.92,42.39 L359.95,42.47 L360.97,42.54 L362.00,42.62 L363.02,42.70 L364.05,42.77 L365.07,42.85 L366.10,42.93 L367.12,43.01 L368.15,43.08 L369.17,43.16 L370.20,43.24 L371.23,43.32 L372.26,43.41 L373.28,43.49 L374.31,43.57 L375.34,43.65 L376.37,43.74 L377.40,43.82 L378.43,43.90 L379.46,43.99 L380.49,44.07 L381.52,44.16 L382.55,44.25 L383.58,44.33 L384.61,44.42 L385.64,44.51 L386.67,44.60 L387.70,44.69 L388.74,44.79 L389.77,44.88 L390.80,44.97 L391.83,45.07 L392.86,45.17 L393.89,45.27 L394.92,45.37 L395.95,45.48 L396.98,45.59 L398.01,45.70 L399.03,45.81 L400.06,45.93 L401.09,46.04 L402.11,46.17 L403.13,46.29 L404.16,46.42 L405.18,46.55 L406.20,46.69 L407.22,46.82 L408.23,46.97 L409.25,47.11 L410.26,47.26 L411.28,47.42 L412.29,47.58 L413.30,47.74 L414.30,47.91 L415.31,48.08 L416.31,48.26 L417.31,48.45 L418.31,48.63 L419.31,48.83 L420.31,49.03 L421.30,49.23 L422.29,49.44 L423.28,49.66 L424.26,49.88 L425.24,50.11 L426.22,50.35 L427.20,50.59 L428.18,50.84 L429.15,51.09 L430.11,51.35 L431.08,51.62 L432.04,51.90 L433.00,52.18 L433.96,52.47 L434.91,52.77 L435.86,53.07 L436.80,53.39 L437.75,53.71 L438.69,54.04 L439.62,54.37 L440.55,54.72 L441.48,55.07 L442.40,55.43 L443.32,55.81 L444.24,56.19 L445.15,56.57 L446.05,56.97 L446.96,57.38 L447.85,57.80 L448.75,58.22 L449.64,58.66 L450.52,59.11 L451.40,59.56 L452.28,60.03 L453.15,60.50 L454.01,60.99 L454.88,61.49 L455.73,61.99 L456.58,62.51 L457.43,63.04 L458.27,63.58 L459.10,64.13 L459.93,64.69 L460.75,65.26 L461.56,65.84 L462.36,66.43 L463.16,67.03 L463.95,67.64 L464.73,68.26 L465.51,68.89 L466.27,69.54 L467.03,70.19 L467.78,70.85 L468.51,71.52 L469.24,72.20 L469.96,72.90 L470.66,73.60 L471.36,74.31 L472.05,75.03 L472.72,75.76 L473.38,76.51 L474.03,77.26 L474.67,78.02 L475.30,78.79 L475.91,79.57 L476.51,80.36 L477.10,81.16 L477.68,81.97 L478.24,82.79 L478.79,83.61 L479.33,84.45 L479.86,85.29 L480.37,86.15 L480.88,87.01 L481.37,87.87 L481.85,88.75 L482.33,89.63 L482.79,90.52 L483.24,91.42 L483.69,92.32 L484.12,93.23 L484.55,94.14 L484.96,95.07 L485.37,95.99 L485.77,96.92 L486.16,97.86 L486.55,98.80 L486.92,99.75 L487.29,100.70 L487.65,101.66 L488.01,102.62 L488.36,103.58 L488.70,104.55 L489.04,105.52 L489.37,106.50 L489.70,107.47 L490.02,108.45 L490.33,109.43 L490.65,110.42 L490.95,111.40 L491.26,112.39 L491.56,113.38 L491.85,114.37 L492.15,115.36 L492.44,116.36 L492.72,117.35 L493.01,118.34 L493.29,119.34 L493.57,120.33 L493.85,121.33 L494.12,122.32 L494.40,123.31 L494.67,124.31 L494.94,125.30 L495.21,126.29 L495.48,127.28 L495.75,128.28 L496.01,129.27 L496.27,130.26 L496.53,131.25 L496.79,132.25 L497.05,133.24 L497.31,134.23 L497.56,135.22 L497.81,136.21 L498.06,137.20 L498.31,138.20 L498.56,139.19 L498.80,140.18 L499.05,141.17 L499.29,142.16 L499.53,143.15 L499.77,144.14 L500.01,145.13 L500.24,146.13 L500.48,147.12 L500.71,148.11 L500.94,149.10 L501.17,150.09 L501.40,151.08 L501.63,152.07 L501.85,153.06 L502.08,154.05 L502.30,155.04 L502.52,156.03 L502.74,157.02 L502.96,158.01 L503.17,159.00 L503.39,159.99 L503.60,160.98 L503.82,161.98 L504.03,162.97 L504.24,163.96 L504.45,164.95 L504.65,165.94 L504.86,166.93 L505.06,167.92 L505.27,168.91 L505.47,169.90 L505.67,170.89 L505.87,171.88 L506.07,172.87 L506.27,173.86 L506.46,174.85 L506.66,175.84 L506.85,176.84 L507.04,177.83 L507.23,178.82 L507.42,179.81 L507.61,180.80 L507.80,181.79 L507.98,182.78 L508.17,183.78 L508.35,184.77 L508.54,185.76 L508.72,186.75 L508.90,187.74 L509.08,188.73 L509.26,189.73 L509.44,190.72 L509.61,191.71 L509.79,192.70 L509.96,193.70 L510.14,194.69 L510.31,195.68 L510.48,196.68 L510.65,197.67 L510.82,198.66 L510.99,199.66 L511.16,200.65 L511.33,201.64 L511.49,202.64 L511.66,203.63 L511.82,204.63 L511.98,205.62 L512.15,206.62 L512.31,207.61 L512.47,208.61 L512.63,209.60 L512.79,210.60 L512.95,211.59 L513.11,212.59 L513.26,213.59 L513.42,214.58 L513.57,215.58 L513.73,216.58 L513.88,217.57 L514.04,218.57 L514.19,219.57 L514.34,220.57 L514.49,221.57 L514.64,222.56 L514.79,223.56 L514.94,224.56 L515.09,225.56 L515.24,226.56 L515.38,227.56 L515.53,228.56 L515.68,229.56 L515.82,230.56 L515.97,231.56 L516.11,232.56 L516.25,233.56 L516.40,234.57 L516.54,235.57 L516.68,236.57 L516.82,237.57 L516.96,238.57 L517.10,239.58 L517.24,240.58 L517.38,241.58 L517.52,242.59 L517.66,243.59 L517.80,244.60 L517.93,245.60 L518.07,246.61 L518.21,247.61 L518.34,248.62 L518.48,249.62 L518.61,250.63 L518.75,251.63 L518.88,252.64 L519.01,253.64 L519.14,254.65 L519.28,255.66 L519.41,256.66 L519.54,257.67 L519.67,258.68 L519.80,259.68 L519.93,260.69 L520.06,261.70 L520.19,262.71 L520.31,263.71 L520.44,264.72 L520.57,265.73 L520.70,266.74 L520.82,267.75 L520.95,268.76 L521.07,269.77 L521.20,270.77 L521.32,271.78 L521.45,272.79 L521.57,273.80 L521.69,274.81 L521.82,275.82 L521.94,276.83 L522.06,277.84 L522.18,278.85 L522.31,279.86 L522.43,280.87 L522.55,281.88 L522.67,282.89 L522.79,283.90 L522.91,284.91 L523.02,285.92 L523.14,286.93 L523.26,287.94 L523.38,288.95 L523.50,289.96 L523.61,290.97 L523.73,291.98 L523.85,293.00 L523.96,294.01 L524.08,295.02 L524.19,296.03 L524.31,297.04 L524.42,298.05 L524.54,299.06 L524.65,300.07 L524.77,301.08 L524.88,302.09 L524.99,303.11 L525.10,304.12 L525.22,305.13 L525.33,306.14 L525.44,307.15 L525.55,308.16 L525.66,309.17 L525.77,310.18 L525.88,311.19 L526.00,312.20 L526.11,313.22 L526.22,314.23 L526.32,315.24 L526.43,316.25 L526.54,317.26 L526.65,318.27 L526.76,319.28 L526.87,320.29 L526.98,321.30 L527.08,322.31 L527.19,323.32 L527.30,324.33 L527.40,325.34 L527.51,326.35 L527.62,327.36 L527.72,328.37 L527.83,329.38 L527.94,330.39 L528.04,331.40 L528.15,332.41 L528.25,333.42 L528.36,334.43 L528.46,335.44 L528.57,336.45 L528.67,337.46 L528.77,338.47 L528.88,339.48 L528.98,340.49 L529.09,341.49 L529.19,342.50 L529.29,343.51 L529.40,344.52 L529.50,345.53 L529.60,346.53 L529.70,347.54 L529.81,348.55 L529.91,349.56 L530.01,350.56 L530.11,351.57 L530.21,352.58 L530.32,353.58 L530.42,354.59 L530.52,355.60 L530.62,356.60 L530.72,357.61 L530.82,358.61 L530.92,359.62 L531.02,360.62 L531.12,361.63 L531.23,362.63 L531.33,363.64 L531.43,364.64 L531.53,365.65 L531.63,366.65 L531.73,367.65 L531.83,368.66 L531.93,369.66 L532.03,370.66 L532.13,371.67 L532.23,372.67 L532.33,373.67 L532.43,374.67 L532.53,375.67 L532.62,376.67 L532.72,377.67 L532.82,378.68 L532.92,379.68" fill="none" stroke="#ff0000" stroke-width="2.65"/>
<polygon points="85.20,25.80 92.05,37.80 78.35,37.80" fill="#ff0000" stroke="none" stroke-width="0"/>
<polygon points="112.20,26.70 119.05,38.70 105.35,38.70" fill="#ff0000" stroke="none" stroke-width="0"/>
<polygon points="139.00,27.00 145.85,39.00 132.15,39.00" fill="#ff0000" stroke="none" stroke-width="0"/>
<polygon points="166.00,27.20 172.85,39.20 159.15,39.20" fill="#ff0000" stroke="none" stroke-width="0"/>
<polygon points="193.00,28.00 199.85,40.00 186.15,40.00" fill="#ff0000" stroke="none" stroke-width="0"/>
<polygon points="219.70,28.60 226.55,40.60 212.85,40.60" fill="#ff0000" stroke="none" stroke-width="0"/>
<polygon points="247.10,29.30 253.95,41.30 240.25,41.30" fill="#ff0000" stroke="none" stroke-width="0"/>
<polygon points="273.70,30.20 280.55,42.20 266.85,42.20" fill="#ff0000" stroke="none" stroke-width="0"/>
<polygon points="300.80,30.90 307.65,42.90 293.95,42.90" fill="#ff0000" stroke="none" stroke-width="0"/>
<polygon points="327.80,32.60 334.65,44.60 320.95,44.60" fill="#ff0000" stroke="none" stroke-width="0"/>
<polygon points="355.30,33.60 362.15,45.60 348.45,45.60" fill="#ff0000" stroke="none" stroke-width="0"/>
<polygon points="382.20,36.10 389.05,48.10 375.35,48.10" fill="#ff0000" stroke="none" stroke-width="0"/>
<polygon points="409.20,39.80 416.05,51.80 402.35,51.80" fill="#ff0000" stroke="none" stroke-width="0"/>
<polygon points="435.80,45.30 442.65,57.30 428.95,57.30" fill="#ff0000" stroke="none" stroke-width="0"/>
<polygon points="462.80,58.60 469.65,70.60 455.95,70.60" fill="#ff0000" stroke="none" stroke-width="0"/>
<polygon points="489.90,101.30 496.75,113.30 483.05,113.30" fill="#ff0000" stroke="none" stroke-width="0"/>
<polygon points="516.80,229.70 523.65,241.70 509.95,241.70" fill="#ff0000" stroke="none" stroke-width="0"/>
</g>
<text transform="translate(112.27,394.2) scale(0.89,1)" font-size="30" text-anchor="middle">0.0</text>
<text transform="translate(203.01,394.2) scale(0.89,1)" font-size="30" text-anchor="middle">0.2</text>
<text transform="translate(293.75,394.2) scale(0.89,1)" font-size="30" text-anchor="middle">0.4</text>
<text transform="translate(384.49,394.2) scale(0.89,1)" font-size="30" text-anchor="middle">0.6</text>
<text transform="translate(475.23,394.2) scale(0.89,1)" font-size="30" text-anchor="middle">0.8</text>
<text transform="translate(565.97,394.2) scale(0.89,1)" font-size="30" text-anchor="middle">1.0</text>
<text transform="translate(82,373.40) scale(0.89,1)" font-size="30" text-anchor="end">-5</text>
<text transform="translate(82,309.60) scale(0.89,1)" font-size="30" text-anchor="end">0</text>
<text transform="translate(82,245.80) scale(0.89,1)" font-size="30" text-anchor="end">5</text>
<text transform="translate(82,182.00) scale(0.89,1)" font-size="30" text-anchor="end">10</text>
<text transform="translate(82,118.20) scale(0.89,1)" font-size="30" text-anchor="end">15</text>
<text transform="translate(82,54.40) scale(0.89,1)" font-size="30" text-anchor="end">20</text>
<text x="327" y="437.6" font-size="34.6" text-anchor="middle">Voltage (V)</text>
<line x1="140" y1="164.20" x2="184" y2="164.20" stroke="#000" stroke-width="2.5"/>
<rect x="156.80" y="159.20" width="10" height="10" fill="#000" stroke="none" stroke-width="0"/>
<text x="189" y="171.20" font-size="19.3">PEDOT:PSS</text>
<line x1="140" y1="187.00" x2="184" y2="187.00" stroke="#0000ff" stroke-width="2.5"/>
<circle cx="161.80" cy="187.00" r="5.8" fill="#0000ff" stroke="none" stroke-width="0"/>
<text x="189" y="194.00" font-size="19.3">PEDOT:PSS+TACB</text>
<line x1="140" y1="209.80" x2="184" y2="209.80" stroke="#ff0000" stroke-width="2.5"/>
<polygon points="161.80,201.80 168.65,213.80 154.95,213.80" fill="#ff0000" stroke="none" stroke-width="0"/>
<text x="189" y="216.80" font-size="19.3">PEDOT:PSS+TTAI</text>
<rect x="90.38" y="503.80" width="475.62" height="351.00" fill="none" stroke="#000" stroke-width="2.5" stroke-linejoin="miter"/>
<line x1="109.40" y1="854.80" x2="109.40" y2="846.60" stroke="#000" stroke-width="2.5" stroke-linecap="round"/>
<line x1="109.40" y1="503.80" x2="109.40" y2="512.00" stroke="#000" stroke-width="2.5" stroke-linecap="round"/>
<line x1="147.45" y1="854.80" x2="147.45" y2="850.30" stroke="#000" stroke-width="2.5" stroke-linecap="round"/>
<line x1="147.45" y1="503.80" x2="147.45" y2="508.30" stroke="#000" stroke-width="2.5" stroke-linecap="round"/>
<line x1="185.50" y1="854.80" x2="185.50" y2="846.60" stroke="#000" stroke-width="2.5" stroke-linecap="round"/>
<line x1="185.50" y1="503.80" x2="185.50" y2="512.00" stroke="#000" stroke-width="2.5" stroke-linecap="round"/>
<line x1="223.55" y1="854.80" x2="223.55" y2="850.30" stroke="#000" stroke-width="2.5" stroke-linecap="round"/>
<line x1="223.55" y1="503.80" x2="223.55" y2="508.30" stroke="#000" stroke-width="2.5" stroke-linecap="round"/>
<line x1="261.60" y1="854.80" x2="261.60" y2="846.60" stroke="#000" stroke-width="2.5" stroke-linecap="round"/>
<line x1="261.60" y1="503.80" x2="261.60" y2="512.00" stroke="#000" stroke-width="2.5" stroke-linecap="round"/>
<line x1="299.65" y1="854.80" x2="299.65" y2="850.30" stroke="#000" stroke-width="2.5" stroke-linecap="round"/>
<line x1="299.65" y1="503.80" x2="299.65" y2="508.30" stroke="#000" stroke-width="2.5" stroke-linecap="round"/>
<line x1="337.70" y1="854.80" x2="337.70" y2="846.60" stroke="#000" stroke-width="2.5" stroke-linecap="round"/>
<line x1="337.70" y1="503.80" x2="337.70" y2="512.00" stroke="#000" stroke-width="2.5" stroke-linecap="round"/>
<line x1="375.75" y1="854.80" x2="375.75" y2="850.30" stroke="#000" stroke-width="2.5" stroke-linecap="round"/>
<line x1="375.75" y1="503.80" x2="375.75" y2="508.30" stroke="#000" stroke-width="2.5" stroke-linecap="round"/>
<line x1="413.80" y1="854.80" x2="413.80" y2="846.60" stroke="#000" stroke-width="2.5" stroke-linecap="round"/>
<line x1="413.80" y1="503.80" x2="413.80" y2="512.00" stroke="#000" stroke-width="2.5" stroke-linecap="round"/>
<line x1="451.85" y1="854.80" x2="451.85" y2="850.30" stroke="#000" stroke-width="2.5" stroke-linecap="round"/>
<line x1="451.85" y1="503.80" x2="451.85" y2="508.30" stroke="#000" stroke-width="2.5" stroke-linecap="round"/>
<line x1="489.90" y1="854.80" x2="489.90" y2="846.60" stroke="#000" stroke-width="2.5" stroke-linecap="round"/>
<line x1="489.90" y1="503.80" x2="489.90" y2="512.00" stroke="#000" stroke-width="2.5" stroke-linecap="round"/>
<line x1="527.95" y1="854.80" x2="527.95" y2="850.30" stroke="#000" stroke-width="2.5" stroke-linecap="round"/>
<line x1="527.95" y1="503.80" x2="527.95" y2="508.30" stroke="#000" stroke-width="2.5" stroke-linecap="round"/>
<line x1="90.38" y1="825.55" x2="94.88" y2="825.55" stroke="#000" stroke-width="2.5" stroke-linecap="round"/>
<line x1="566.00" y1="825.55" x2="561.50" y2="825.55" stroke="#000" stroke-width="2.5" stroke-linecap="round"/>
<line x1="90.38" y1="796.30" x2="98.58" y2="796.30" stroke="#000" stroke-width="2.5" stroke-linecap="round"/>
<line x1="566.00" y1="796.30" x2="557.80" y2="796.30" stroke="#000" stroke-width="2.5" stroke-linecap="round"/>
<line x1="90.38" y1="767.05" x2="94.88" y2="767.05" stroke="#000" stroke-width="2.5" stroke-linecap="round"/>
<line x1="566.00" y1="767.05" x2="561.50" y2="767.05" stroke="#000" stroke-width="2.5" stroke-linecap="round"/>
<line x1="90.38" y1="737.80" x2="98.58" y2="737.80" stroke="#000" stroke-width="2.5" stroke-linecap="round"/>
<line x1="566.00" y1="737.80" x2="557.80" y2="737.80" stroke="#000" stroke-width="2.5" stroke-linecap="round"/>
<line x1="90.38" y1="708.55" x2="94.88" y2="708.55" stroke="#000" stroke-width="2.5" stroke-linecap="round"/>
<line x1="566.00" y1="708.55" x2="561.50" y2="708.55" stroke="#000" stroke-width="2.5" stroke-linecap="round"/>
<line x1="90.38" y1="679.30" x2="98.58" y2="679.30" stroke="#000" stroke-width="2.5" stroke-linecap="round"/>
<line x1="566.00" y1="679.30" x2="557.80" y2="679.30" stroke="#000" stroke-width="2.5" stroke-linecap="round"/>
<line x1="90.38" y1="650.05" x2="94.88" y2="650.05" stroke="#000" stroke-width="2.5" stroke-linecap="round"/>
<line x1="566.00" y1="650.05" x2="561.50" y2="650.05" stroke="#000" stroke-width="2.5" stroke-linecap="round"/>
<line x1="90.38" y1="620.80" x2="98.58" y2="620.80" stroke="#000" stroke-width="2.5" stroke-linecap="round"/>
<line x1="566.00" y1="620.80" x2="557.80" y2="620.80" stroke="#000" stroke-width="2.5" stroke-linecap="round"/>
<line x1="90.38" y1="591.55" x2="94.88" y2="591.55" stroke="#000" stroke-width="2.5" stroke-linecap="round"/>
<line x1="566.00" y1="591.55" x2="561.50" y2="591.55" stroke="#000" stroke-width="2.5" stroke-linecap="round"/>
<line x1="90.38" y1="562.30" x2="98.58" y2="562.30" stroke="#000" stroke-width="2.5" stroke-linecap="round"/>
<line x1="566.00" y1="562.30" x2="557.80" y2="562.30" stroke="#000" stroke-width="2.5" stroke-linecap="round"/>
<line x1="90.38" y1="533.05" x2="94.88" y2="533.05" stroke="#000" stroke-width="2.5" stroke-linecap="round"/>
<line x1="566.00" y1="533.05" x2="561.50" y2="533.05" stroke="#000" stroke-width="2.5" stroke-linecap="round"/>
<g clip-path="url(#c2)">
<line x1="90.38" y1="796.30" x2="566.00" y2="796.30" stroke="#000" stroke-width="2.5"/>
<line x1="109.40" y1="503.80" x2="109.40" y2="854.80" stroke="#000" stroke-width="2.5"/>
<path d="M85.85,521.38 L86.80,521.44 L87.76,521.50 L88.71,521.55 L89.67,521.61 L90.62,521.66 L91.58,521.72 L92.54,521.77 L93.49,521.83 L94.45,521.89 L95.41,521.94 L96.36,522.00 L97.32,522.05 L98.28,522.11 L99.24,522.16 L100.20,522.21 L101.15,522.27 L102.11,522.32 L103.07,522.38 L104.03,522.43 L104.99,522.48 L105.95,522.54 L106.91,522.59 L107.87,522.65 L108.83,522.70 L109.79,522.75 L110.75,522.80 L111.71,522.86 L112.67,522.91 L113.63,522.96 L114.59,523.02 L115.55,523.07 L116.51,523.12 L117.47,523.17 L118.43,523.23 L119.39,523.28 L120.36,523.33 L121.32,523.38 L122.28,523.43 L123.24,523.49 L124.20,523.54 L125.17,523.59 L126.13,523.64 L127.09,523.69 L128.05,523.74 L129.02,523.80 L129.98,523.85 L130.94,523.90 L131.90,523.95 L132.87,524.00 L133.83,524.05 L134.79,524.10 L135.76,524.15 L136.72,524.21 L137.68,524.26 L138.65,524.31 L139.61,524.36 L140.58,524.41 L141.54,524.46 L142.50,524.51 L143.47,524.56 L144.43,524.61 L145.40,524.66 L146.36,524.72 L147.32,524.77 L148.29,524.82 L149.25,524.87 L150.22,524.92 L151.18,524.97 L152.15,525.02 L153.11,525.07 L154.07,525.12 L155.04,525.17 L156.00,525.22 L156.97,525.27 L157.93,525.33 L158.90,525.38 L159.86,525.43 L160.83,525.48 L161.79,525.53 L162.76,525.58 L163.72,525.63 L164.69,525.68 L165.65,525.73 L166.62,525.78 L167.58,525.84 L168.55,525.89 L169.51,525.94 L170.48,525.99 L171.44,526.04 L172.41,526.09 L173.37,526.14 L174.34,526.20 L175.30,526.25 L176.26,526.30 L177.23,526.35 L178.19,526.40 L179.16,526.45 L180.12,526.51 L181.09,526.56 L182.05,526.61 L183.02,526.66 L183.98,526.71 L184.95,526.77 L185.91,526.82 L186.87,526.87 L187.84,526.92 L188.80,526.98 L189.77,527.03 L190.73,527.08 L191.69,527.14 L192.66,527.19 L193.62,527.24 L194.59,527.30 L195.55,527.35 L196.51,527.40 L197.48,527.46 L198.44,527.51 L199.40,527.57 L200.37,527.62 L201.33,527.67 L202.29,527.73 L203.26,527.78 L204.22,527.84 L205.18,527.89 L206.14,527.95 L207.11,528.00 L208.07,528.06 L209.03,528.11 L209.99,528.17 L210.95,528.23 L211.92,528.28 L212.88,528.34 L213.84,528.39 L214.80,528.45 L215.76,528.51 L216.72,528.56 L217.68,528.62 L218.64,528.68 L219.61,528.74 L220.57,528.79 L221.53,528.85 L222.49,528.91 L223.45,528.97 L224.41,529.03 L225.37,529.08 L226.33,529.14 L227.29,529.20 L228.24,529.26 L229.20,529.32 L230.16,529.38 L231.12,529.44 L232.08,529.50 L233.04,529.56 L234.00,529.62 L234.95,529.68 L235.91,529.74 L236.87,529.80 L237.83,529.87 L238.78,529.93 L239.74,529.99 L240.70,530.05 L241.65,530.11 L242.61,530.18 L243.57,530.24 L244.52,530.30 L245.48,530.37 L246.43,530.43 L247.39,530.49 L248.34,530.56 L249.30,530.62 L250.25,530.69 L251.21,530.75 L252.16,530.82 L253.11,530.88 L254.07,530.95 L255.02,531.01 L255.98,531.08 L256.93,531.15 L257.88,531.21 L258.84,531.28 L259.79,531.35 L260.74,531.41 L261.70,531.48 L262.65,531.55 L263.60,531.62 L264.55,531.69 L265.51,531.75 L266.46,531.82 L267.41,531.89 L268.37,531.96 L269.32,532.03 L270.27,532.10 L271.23,532.17 L272.18,532.24 L273.13,532.31 L274.08,532.38 L275.04,532.46 L275.99,532.53 L276.94,532.60 L277.90,532.67 L278.85,532.74 L279.80,532.82 L280.76,532.89 L281.71,532.96 L282.67,533.03 L283.62,533.11 L284.57,533.18 L285.53,533.26 L286.48,533.33 L287.44,533.40 L288.39,533.48 L289.35,533.55 L290.30,533.63 L291.26,533.71 L292.22,533.78 L293.17,533.86 L294.13,533.93 L295.08,534.01 L296.04,534.09 L297.00,534.16 L297.96,534.24 L298.91,534.32 L299.87,534.40 L300.83,534.47 L301.79,534.55 L302.75,534.63 L303.71,534.71 L304.67,534.79 L305.63,534.87 L306.59,534.95 L307.55,535.03 L308.51,535.11 L309.47,535.19 L310.43,535.27 L311.40,535.35 L312.36,535.43 L313.32,535.51 L314.29,535.59 L315.25,535.68 L316.21,535.76 L317.18,535.84 L318.15,535.92 L319.11,536.01 L320.08,536.09 L321.05,536.17 L322.01,536.26 L322.98,536.34 L323.95,536.42 L324.92,536.51 L325.89,536.59 L326.86,536.68 L327.83,536.76 L328.80,536.85 L329.78,536.93 L330.75,537.02 L331.72,537.11 L332.70,537.19 L333.67,537.28 L334.65,537.37 L335.62,537.45 L336.60,537.54 L337.58,537.63 L338.55,537.72 L339.53,537.81 L340.51,537.90 L341.49,537.99 L342.47,538.08 L343.45,538.17 L344.43,538.26 L345.41,538.36 L346.39,538.45 L347.37,538.55 L348.35,538.65 L349.33,538.75 L350.31,538.85 L351.29,538.95 L352.27,539.06 L353.25,539.17 L354.23,539.27 L355.20,539.39 L356.18,539.50 L357.16,539.61 L358.14,539.73 L359.11,539.85 L360.09,539.98 L361.06,540.10 L362.04,540.23 L363.01,540.36 L363.98,540.50 L364.95,540.64 L365.92,540.78 L366.89,540.92 L367.86,541.07 L368.82,541.22 L369.79,541.38 L370.75,541.54 L371.72,541.70 L372.68,541.87 L373.64,542.04 L374.59,542.21 L375.55,542.39 L376.51,542.57 L377.46,542.76 L378.41,542.95 L379.36,543.15 L380.31,543.35 L381.25,543.56 L382.20,543.77 L383.14,543.98 L384.08,544.20 L385.01,544.43 L385.95,544.66 L386.88,544.90 L387.81,545.14 L388.74,545.39 L389.66,545.64 L390.59,545.90 L391.51,546.16 L392.43,546.43 L393.34,546.71 L394.25,546.99 L395.16,547.28 L396.07,547.58 L396.97,547.88 L397.87,548.19 L398.77,548.50 L399.67,548.83 L400.56,549.15 L401.45,549.49 L402.33,549.83 L403.21,550.18 L404.09,550.54 L404.97,550.90 L405.84,551.28 L406.71,551.65 L407.57,552.04 L408.43,552.43 L409.29,552.83 L410.14,553.24 L410.99,553.66 L411.84,554.08 L412.68,554.51 L413.52,554.94 L414.35,555.39 L415.18,555.84 L416.01,556.30 L416.83,556.76 L417.65,557.23 L418.46,557.71 L419.27,558.19 L420.08,558.69 L420.88,559.18 L421.67,559.69 L422.47,560.20 L423.25,560.72 L424.04,561.25 L424.81,561.78 L425.59,562.32 L426.36,562.86 L427.12,563.41 L427.88,563.97 L428.63,564.54 L429.38,565.11 L430.12,565.69 L430.86,566.27 L431.60,566.86 L432.33,567.46 L433.05,568.06 L433.77,568.67 L434.48,569.29 L435.19,569.91 L435.89,570.54 L436.58,571.18 L437.28,571.82 L437.96,572.47 L438.64,573.12 L439.32,573.78 L439.98,574.44 L440.65,575.12 L441.30,575.79 L441.95,576.48 L442.60,577.17 L443.24,577.86 L443.87,578.56 L444.50,579.27 L445.12,579.98 L445.73,580.70 L446.34,581.43 L446.94,582.16 L447.54,582.89 L448.13,583.64 L448.71,584.38 L449.29,585.14 L449.86,585.90 L450.42,586.66 L450.98,587.43 L451.53,588.21 L452.07,588.99 L452.61,589.77 L453.14,590.56 L453.67,591.36 L454.19,592.16 L454.71,592.96 L455.22,593.77 L455.72,594.58 L456.22,595.40 L456.71,596.22 L457.20,597.05 L457.68,597.88 L458.16,598.71 L458.63,599.55 L459.10,600.39 L459.56,601.24 L460.02,602.09 L460.48,602.94 L460.92,603.80 L461.37,604.66 L461.81,605.52 L462.24,606.39 L462.67,607.25 L463.10,608.13 L463.52,609.00 L463.94,609.88 L464.35,610.76 L464.76,611.64 L465.17,612.52 L465.57,613.41 L465.97,614.30 L466.36,615.19 L466.75,616.09 L467.14,616.98 L467.52,617.88 L467.90,618.78 L468.28,619.68 L468.66,620.58 L469.03,621.48 L469.40,622.39 L469.76,623.29 L470.12,624.20 L470.48,625.11 L470.84,626.01 L471.19,626.92 L471.55,627.83 L471.90,628.75 L472.24,629.66 L472.59,630.57 L472.93,631.48 L473.27,632.39 L473.61,633.31 L473.94,634.22 L474.28,635.14 L474.61,636.05 L474.94,636.97 L475.26,637.88 L475.59,638.80 L475.91,639.71 L476.23,640.63 L476.55,641.55 L476.86,642.47 L477.18,643.39 L477.49,644.30 L477.80,645.22 L478.10,646.14 L478.41,647.06 L478.71,647.98 L479.01,648.91 L479.31,649.83 L479.61,650.75 L479.90,651.67 L480.20,652.59 L480.49,653.52 L480.77,654.44 L481.06,655.37 L481.35,656.29 L481.63,657.22 L481.91,658.14 L482.19,659.07 L482.46,659.99 L482.74,660.92 L483.01,661.85 L483.28,662.77 L483.55,663.70 L483.82,664.63 L484.08,665.56 L484.35,666.49 L484.61,667.42 L484.87,668.35 L485.12,669.28 L485.38,670.21 L485.63,671.14 L485.89,672.07 L486.14,673.00 L486.39,673.93 L486.63,674.86 L486.88,675.80 L487.12,676.73 L487.36,677.66 L487.60,678.60 L487.84,679.53 L488.08,680.46 L488.31,681.40 L488.55,682.33 L488.78,683.27 L489.01,684.20 L489.24,685.14 L489.46,686.08 L489.69,687.01 L489.91,687.95 L490.14,688.89 L490.36,689.82 L490.57,690.76 L490.79,691.70 L491.01,692.64 L491.22,693.58 L491.44,694.52 L491.65,695.46 L491.86,696.40 L492.07,697.34 L492.27,698.28 L492.48,699.22 L492.68,700.16 L492.88,701.10 L493.09,702.04 L493.29,702.98 L493.48,703.92 L493.68,704.87 L493.88,705.81 L494.07,706.75 L494.27,707.69 L494.46,708.64 L494.65,709.58 L494.84,710.53 L495.02,711.47 L495.21,712.41 L495.40,713.36 L495.58,714.30 L495.76,715.25 L495.94,716.19 L496.13,717.14 L496.30,718.08 L496.48,719.03 L496.66,719.98 L496.83,720.92 L497.01,721.87 L497.18,722.82 L497.36,723.76 L497.53,724.71 L497.70,725.66 L497.87,726.61 L498.03,727.55 L498.20,728.50 L498.37,729.45 L498.53,730.40 L498.69,731.35 L498.86,732.30 L499.02,733.25 L499.18,734.20 L499.34,735.15 L499.50,736.10 L499.65,737.05 L499.81,738.00 L499.97,738.95 L500.12,739.90 L500.27,740.85 L500.43,741.80 L500.58,742.75 L500.73,743.70 L500.88,744.65 L501.03,745.60 L501.18,746.55 L501.33,747.51 L501.47,748.46 L501.62,749.41 L501.77,750.36 L501.91,751.31 L502.05,752.27 L502.20,753.22 L502.34,754.17 L502.48,755.12 L502.62,756.08 L502.76,757.03 L502.90,757.98 L503.04,758.94 L503.18,759.89 L503.32,760.84 L503.45,761.80 L503.59,762.75 L503.72,763.70 L503.86,764.66 L503.99,765.61 L504.13,766.57 L504.26,767.52 L504.39,768.48 L504.52,769.43 L504.65,770.38 L504.79,771.34 L504.92,772.29 L505.05,773.25 L505.18,774.20 L505.30,775.16 L505.43,776.11 L505.56,777.07 L505.69,778.02 L505.81,778.98 L505.94,779.93 L506.07,780.89 L506.19,781.84 L506.32,782.80 L506.44,783.76 L506.57,784.71 L506.69,785.67 L506.82,786.62 L506.94,787.58 L507.06,788.53 L507.19,789.49 L507.31,790.45 L507.43,791.40 L507.55,792.36 L507.67,793.31 L507.80,794.27 L507.92,795.22 L508.04,796.18 L508.16,797.14 L508.28,798.09 L508.40,799.05 L508.52,800.00 L508.64,800.96 L508.76,801.92 L508.88,802.87 L509.00,803.83 L509.12,804.78 L509.24,805.74 L509.36,806.69 L509.48,807.65 L509.60,808.61 L509.72,809.56 L509.84,810.52 L509.96,811.47 L510.08,812.43 L510.19,813.39 L510.31,814.34 L510.43,815.30 L510.55,816.25 L510.67,817.21 L510.79,818.16 L510.91,819.12 L511.03,820.07 L511.15,821.03 L511.27,821.98 L511.39,822.94 L511.51,823.89 L511.63,824.85 L511.75,825.80 L511.87,826.76 L511.99,827.71 L512.11,828.67 L512.23,829.62 L512.35,830.58 L512.47,831.53 L512.60,832.49 L512.72,833.44 L512.84,834.40 L512.96,835.35 L513.08,836.30 L513.21,837.26 L513.33,838.21 L513.45,839.17 L513.58,840.12 L513.70,841.07 L513.83,842.03 L513.95,842.98 L514.08,843.93 L514.20,844.89 L514.33,845.84 L514.45,846.79 L514.58,847.74 L514.71,848.70 L514.84,849.65 L514.96,850.60 L515.09,851.55 L515.22,852.50 L515.35,853.46 L515.48,854.41 L515.61,855.36 L515.74,856.31 L515.88,857.26 L516.01,858.21 L516.14,859.16 L516.27,860.11 L516.41,861.06 L516.54,862.02 L516.68,862.97 L516.81,863.92 L516.95,864.87 L517.09,865.81 L517.23,866.76 L517.36,867.71 L517.50,868.66 L517.64,869.61" fill="none" stroke="#999999" stroke-width="2.65"/>
<rect x="82.10" y="518.20" width="8" height="8" fill="#fff" stroke="#999999" stroke-width="1.8"/>
<rect x="104.80" y="519.00" width="8" height="8" fill="#fff" stroke="#999999" stroke-width="1.8"/>
<rect x="127.60" y="520.10" width="8" height="8" fill="#fff" stroke="#999999" stroke-width="1.8"/>
<rect x="150.20" y="521.10" width="8" height="8" fill="#fff" stroke="#999999" stroke-width="1.8"/>
<rect x="172.80" y="522.20" width="8" height="8" fill="#fff" stroke="#999999" stroke-width="1.8"/>
<rect x="195.40" y="523.60" width="8" height="8" fill="#fff" stroke="#999999" stroke-width="1.8"/>
<rect x="218.00" y="524.60" width="8" height="8" fill="#fff" stroke="#999999" stroke-width="1.8"/>
<rect x="240.80" y="526.20" width="8" height="8" fill="#fff" stroke="#999999" stroke-width="1.8"/>
<rect x="263.80" y="528.00" width="8" height="8" fill="#fff" stroke="#999999" stroke-width="1.8"/>
<rect x="286.40" y="529.50" width="8" height="8" fill="#fff" stroke="#999999" stroke-width="1.8"/>
<rect x="309.20" y="531.20" width="8" height="8" fill="#fff" stroke="#999999" stroke-width="1.8"/>
<rect x="331.30" y="534.40" width="8" height="8" fill="#fff" stroke="#999999" stroke-width="1.8"/>
<rect x="354.00" y="536.50" width="8" height="8" fill="#fff" stroke="#999999" stroke-width="1.8"/>
<rect x="376.30" y="539.20" width="8" height="8" fill="#fff" stroke="#999999" stroke-width="1.8"/>
<rect x="399.90" y="546.50" width="8" height="8" fill="#fff" stroke="#999999" stroke-width="1.8"/>
<rect x="422.50" y="558.90" width="8" height="8" fill="#fff" stroke="#999999" stroke-width="1.8"/>
<rect x="445.00" y="580.90" width="8" height="8" fill="#fff" stroke="#999999" stroke-width="1.8"/>
<rect x="467.60" y="624.50" width="8" height="8" fill="#fff" stroke="#999999" stroke-width="1.8"/>
<rect x="490.40" y="707.80" width="8" height="8" fill="#fff" stroke="#999999" stroke-width="1.8"/>
<path d="M85.82,542.57 L86.77,542.64 L87.73,542.72 L88.69,542.79 L89.64,542.87 L90.60,542.94 L91.56,543.01 L92.52,543.08 L93.47,543.16 L94.43,543.23 L95.39,543.30 L96.35,543.36 L97.31,543.43 L98.26,543.50 L99.22,543.57 L100.18,543.63 L101.14,543.70 L102.10,543.76 L103.05,543.83 L104.01,543.89 L104.97,543.96 L105.93,544.02 L106.89,544.08 L107.84,544.14 L108.80,544.20 L109.76,544.26 L110.72,544.32 L111.68,544.38 L112.64,544.44 L113.60,544.50 L114.55,544.56 L115.51,544.61 L116.47,544.67 L117.43,544.73 L118.39,544.78 L119.35,544.84 L120.31,544.89 L121.27,544.95 L122.22,545.00 L123.18,545.05 L124.14,545.10 L125.10,545.16 L126.06,545.21 L127.02,545.26 L127.98,545.31 L128.94,545.36 L129.90,545.41 L130.86,545.46 L131.82,545.51 L132.78,545.56 L133.73,545.60 L134.69,545.65 L135.65,545.70 L136.61,545.74 L137.57,545.79 L138.53,545.84 L139.49,545.88 L140.45,545.93 L141.41,545.97 L142.37,546.02 L143.33,546.06 L144.29,546.10 L145.25,546.15 L146.21,546.19 L147.17,546.23 L148.13,546.27 L149.09,546.32 L150.05,546.36 L151.01,546.40 L151.97,546.44 L152.93,546.48 L153.89,546.52 L154.85,546.56 L155.81,546.60 L156.77,546.64 L157.73,546.68 L158.69,546.72 L159.65,546.75 L160.61,546.79 L161.57,546.83 L162.53,546.87 L163.49,546.91 L164.45,546.94 L165.41,546.98 L166.37,547.02 L167.33,547.05 L168.29,547.09 L169.25,547.12 L170.21,547.16 L171.17,547.20 L172.13,547.23 L173.09,547.27 L174.05,547.30 L175.01,547.34 L175.97,547.37 L176.93,547.40 L177.89,547.44 L178.86,547.47 L179.82,547.51 L180.78,547.54 L181.74,547.57 L182.70,547.61 L183.66,547.64 L184.62,547.67 L185.58,547.71 L186.54,547.74 L187.50,547.77 L188.46,547.81 L189.42,547.84 L190.38,547.87 L191.34,547.90 L192.30,547.94 L193.26,547.97 L194.22,548.00 L195.18,548.03 L196.14,548.06 L197.10,548.10 L198.06,548.13 L199.03,548.16 L199.99,548.19 L200.95,548.22 L201.91,548.26 L202.87,548.29 L203.83,548.32 L204.79,548.35 L205.75,548.38 L206.71,548.42 L207.67,548.45 L208.63,548.48 L209.59,548.51 L210.55,548.54 L211.51,548.57 L212.47,548.61 L213.43,548.64 L214.39,548.67 L215.35,548.70 L216.31,548.73 L217.27,548.77 L218.23,548.80 L219.20,548.83 L220.16,548.86 L221.12,548.90 L222.08,548.93 L223.04,548.96 L224.00,548.99 L224.96,549.03 L225.92,549.06 L226.88,549.09 L227.84,549.13 L228.80,549.16 L229.76,549.19 L230.72,549.23 L231.68,549.26 L232.64,549.30 L233.60,549.33 L234.56,549.36 L235.52,549.40 L236.48,549.43 L237.44,549.47 L238.40,549.50 L239.36,549.54 L240.32,549.57 L241.28,549.61 L242.24,549.65 L243.20,549.68 L244.16,549.72 L245.12,549.75 L246.08,549.79 L247.04,549.83 L248.00,549.87 L248.96,549.90 L249.92,549.94 L250.88,549.98 L251.84,550.02 L252.80,550.06 L253.76,550.09 L254.72,550.13 L255.68,550.17 L256.64,550.21 L257.60,550.25 L258.55,550.29 L259.51,550.33 L260.47,550.37 L261.43,550.42 L262.39,550.46 L263.35,550.50 L264.31,550.54 L265.27,550.58 L266.23,550.63 L267.19,550.67 L268.15,550.71 L269.11,550.76 L270.07,550.80 L271.03,550.85 L271.99,550.89 L272.94,550.94 L273.90,550.98 L274.86,551.03 L275.82,551.07 L276.78,551.12 L277.74,551.17 L278.70,551.21 L279.66,551.26 L280.62,551.31 L281.58,551.36 L282.53,551.41 L283.49,551.46 L284.45,551.51 L285.41,551.56 L286.37,551.61 L287.33,551.66 L288.29,551.71 L289.25,551.76 L290.21,551.81 L291.16,551.86 L292.12,551.92 L293.08,551.97 L294.04,552.02 L295.00,552.08 L295.96,552.13 L296.92,552.19 L297.87,552.24 L298.83,552.30 L299.79,552.36 L300.75,552.41 L301.71,552.47 L302.67,552.53 L303.62,552.59 L304.58,552.64 L305.54,552.70 L306.50,552.76 L307.46,552.82 L308.42,552.88 L309.37,552.95 L310.33,553.01 L311.29,553.07 L312.25,553.13 L313.21,553.19 L314.17,553.26 L315.12,553.32 L316.08,553.39 L317.04,553.45 L318.00,553.52 L318.96,553.58 L319.91,553.65 L320.87,553.72 L321.83,553.79 L322.79,553.85 L323.75,553.92 L324.70,553.99 L325.66,554.06 L326.62,554.13 L327.58,554.20 L328.54,554.28 L329.49,554.35 L330.45,554.42 L331.41,554.49 L332.37,554.57 L333.33,554.64 L334.28,554.72 L335.24,554.79 L336.20,554.87 L337.16,554.95 L338.11,555.02 L339.07,555.10 L340.03,555.18 L340.99,555.26 L341.94,555.34 L342.90,555.42 L343.86,555.50 L344.82,555.58 L345.77,555.67 L346.73,555.75 L347.69,555.83 L348.65,555.92 L349.60,556.00 L350.56,556.09 L351.52,556.17 L352.48,556.26 L353.43,556.35 L354.39,556.44 L355.35,556.53 L356.31,556.62 L357.26,556.71 L358.22,556.80 L359.18,556.89 L360.14,556.98 L361.09,557.07 L362.05,557.17 L363.01,557.26 L363.96,557.36 L364.92,557.46 L365.88,557.56 L366.83,557.66 L367.79,557.76 L368.75,557.86 L369.70,557.97 L370.66,558.08 L371.61,558.18 L372.57,558.29 L373.52,558.40 L374.48,558.52 L375.43,558.63 L376.39,558.75 L377.34,558.87 L378.29,558.99 L379.25,559.12 L380.20,559.24 L381.15,559.37 L382.10,559.50 L383.05,559.64 L384.00,559.77 L384.95,559.91 L385.90,560.05 L386.85,560.20 L387.80,560.34 L388.75,560.49 L389.70,560.65 L390.65,560.80 L391.59,560.96 L392.54,561.12 L393.48,561.29 L394.43,561.46 L395.37,561.63 L396.32,561.80 L397.26,561.98 L398.20,562.17 L399.14,562.35 L400.08,562.54 L401.02,562.74 L401.96,562.93 L402.90,563.14 L403.84,563.34 L404.78,563.55 L405.71,563.77 L406.65,563.98 L407.58,564.21 L408.52,564.43 L409.45,564.66 L410.38,564.90 L411.31,565.14 L412.24,565.38 L413.17,565.63 L414.10,565.89 L415.03,566.15 L415.95,566.41 L416.88,566.68 L417.80,566.95 L418.72,567.23 L419.65,567.52 L420.57,567.81 L421.49,568.10 L422.41,568.40 L423.32,568.71 L424.24,569.02 L425.16,569.34 L426.07,569.66 L426.98,569.99 L427.89,570.33 L428.79,570.67 L429.70,571.02 L430.60,571.37 L431.49,571.74 L432.39,572.11 L433.27,572.49 L434.16,572.87 L435.04,573.27 L435.91,573.67 L436.78,574.08 L437.64,574.50 L438.50,574.93 L439.35,575.37 L440.20,575.82 L441.03,576.28 L441.86,576.75 L442.69,577.22 L443.50,577.71 L444.31,578.21 L445.11,578.72 L445.90,579.24 L446.69,579.77 L447.46,580.31 L448.22,580.87 L448.98,581.43 L449.72,582.01 L450.46,582.60 L451.19,583.19 L451.90,583.80 L452.61,584.42 L453.31,585.05 L454.00,585.69 L454.69,586.34 L455.36,586.99 L456.02,587.66 L456.68,588.33 L457.33,589.02 L457.97,589.71 L458.60,590.41 L459.22,591.11 L459.84,591.83 L460.44,592.55 L461.04,593.28 L461.63,594.01 L462.22,594.75 L462.79,595.50 L463.36,596.26 L463.92,597.01 L464.47,597.78 L465.01,598.55 L465.55,599.32 L466.08,600.11 L466.60,600.89 L467.12,601.68 L467.63,602.48 L468.13,603.28 L468.62,604.08 L469.11,604.89 L469.59,605.71 L470.07,606.52 L470.54,607.35 L471.00,608.17 L471.45,609.01 L471.90,609.84 L472.35,610.68 L472.79,611.53 L473.22,612.37 L473.64,613.22 L474.06,614.08 L474.48,614.94 L474.89,615.80 L475.29,616.67 L475.69,617.53 L476.09,618.41 L476.48,619.28 L476.86,620.16 L477.24,621.04 L477.62,621.92 L477.99,622.81 L478.35,623.70 L478.71,624.59 L479.07,625.49 L479.42,626.39 L479.77,627.29 L480.12,628.19 L480.46,629.09 L480.80,630.00 L481.13,630.91 L481.46,631.82 L481.79,632.73 L482.11,633.64 L482.43,634.56 L482.74,635.48 L483.06,636.39 L483.37,637.31 L483.67,638.24 L483.98,639.16 L484.28,640.08 L484.58,641.01 L484.88,641.93 L485.17,642.86 L485.46,643.79 L485.75,644.71 L486.04,645.64 L486.32,646.57 L486.61,647.50 L486.89,648.43 L487.17,649.36 L487.45,650.29 L487.72,651.22 L488.00,652.15 L488.27,653.09 L488.54,654.02 L488.82,654.95 L489.08,655.88 L489.35,656.81 L489.62,657.74 L489.88,658.67 L490.14,659.61 L490.41,660.54 L490.67,661.47 L490.92,662.40 L491.18,663.34 L491.44,664.27 L491.69,665.20 L491.94,666.14 L492.19,667.07 L492.44,668.00 L492.69,668.94 L492.94,669.87 L493.18,670.80 L493.43,671.74 L493.67,672.67 L493.91,673.60 L494.15,674.54 L494.39,675.47 L494.62,676.41 L494.86,677.34 L495.09,678.28 L495.33,679.21 L495.56,680.15 L495.79,681.08 L496.02,682.02 L496.24,682.95 L496.47,683.89 L496.69,684.83 L496.92,685.76 L497.14,686.70 L497.36,687.63 L497.58,688.57 L497.80,689.51 L498.02,690.44 L498.23,691.38 L498.45,692.32 L498.66,693.26 L498.87,694.19 L499.08,695.13 L499.29,696.07 L499.50,697.01 L499.71,697.94 L499.91,698.88 L500.12,699.82 L500.32,700.76 L500.52,701.70 L500.73,702.63 L500.93,703.57 L501.13,704.51 L501.32,705.45 L501.52,706.39 L501.72,707.33 L501.91,708.27 L502.10,709.21 L502.30,710.15 L502.49,711.09 L502.68,712.03 L502.87,712.97 L503.05,713.91 L503.24,714.85 L503.43,715.79 L503.61,716.73 L503.79,717.67 L503.98,718.61 L504.16,719.55 L504.34,720.49 L504.52,721.43 L504.70,722.37 L504.87,723.32 L505.05,724.26 L505.23,725.20 L505.40,726.14 L505.57,727.08 L505.75,728.03 L505.92,728.97 L506.09,729.91 L506.26,730.85 L506.43,731.80 L506.60,732.74 L506.76,733.68 L506.93,734.62 L507.09,735.57 L507.26,736.51 L507.42,737.45 L507.58,738.40 L507.75,739.34 L507.91,740.28 L508.07,741.23 L508.22,742.17 L508.38,743.12 L508.54,744.06 L508.70,745.01 L508.85,745.95 L509.01,746.90 L509.16,747.84 L509.32,748.78 L509.47,749.73 L509.62,750.68 L509.77,751.62 L509.92,752.57 L510.07,753.51 L510.22,754.46 L510.37,755.40 L510.51,756.35 L510.66,757.30 L510.81,758.24 L510.95,759.19 L511.10,760.13 L511.24,761.08 L511.38,762.03 L511.52,762.97 L511.67,763.92 L511.81,764.87 L511.95,765.82 L512.09,766.76 L512.23,767.71 L512.36,768.66 L512.50,769.61 L512.64,770.55 L512.77,771.50 L512.91,772.45 L513.05,773.40 L513.18,774.35 L513.31,775.29 L513.45,776.24 L513.58,777.19 L513.71,778.14 L513.84,779.09 L513.98,780.04 L514.11,780.99 L514.24,781.94 L514.37,782.89 L514.49,783.84 L514.62,784.79 L514.75,785.73 L514.88,786.68 L515.01,787.63 L515.13,788.58 L515.26,789.54 L515.38,790.49 L515.51,791.44 L515.63,792.39 L515.76,793.34 L515.88,794.29 L516.01,795.24 L516.13,796.19 L516.25,797.14 L516.37,798.09 L516.50,799.04 L516.62,800.00 L516.74,800.95 L516.86,801.90 L516.98,802.85 L517.10,803.80 L517.22,804.75 L517.34,805.71 L517.46,806.66 L517.58,807.61 L517.69,808.56 L517.81,809.52 L517.93,810.47 L518.05,811.42 L518.16,812.37 L518.28,813.33 L518.40,814.28 L518.51,815.23 L518.63,816.19 L518.74,817.14 L518.86,818.10 L518.97,819.05 L519.09,820.00 L519.20,820.96 L519.32,821.91 L519.43,822.87 L519.55,823.82 L519.66,824.77 L519.77,825.73 L519.89,826.68 L520.00,827.64 L520.11,828.59 L520.23,829.55 L520.34,830.50 L520.45,831.46 L520.57,832.41 L520.68,833.37 L520.79,834.32 L520.90,835.28 L521.02,836.24 L521.13,837.19 L521.24,838.15 L521.35,839.10 L521.46,840.06 L521.57,841.02 L521.69,841.97 L521.80,842.93 L521.91,843.89 L522.02,844.84 L522.13,845.80 L522.24,846.76 L522.36,847.71 L522.47,848.67 L522.58,849.63 L522.69,850.58 L522.80,851.54 L522.91,852.50 L523.02,853.46 L523.14,854.41 L523.25,855.37 L523.36,856.33 L523.47,857.29 L523.58,858.25 L523.69,859.20 L523.81,860.16 L523.92,861.12 L524.03,862.08 L524.14,863.04 L524.26,864.00 L524.37,864.96 L524.48,865.92 L524.59,866.87 L524.71,867.83 L524.82,868.79 L524.93,869.75" fill="none" stroke="#0000ff" stroke-width="2.65"/>
<circle cx="88.90" cy="542.90" r="4.5" fill="#fff" stroke="#0000ff" stroke-width="2"/>
<circle cx="115.40" cy="544.90" r="4.5" fill="#fff" stroke="#0000ff" stroke-width="2"/>
<circle cx="142.50" cy="545.90" r="4.5" fill="#fff" stroke="#0000ff" stroke-width="2"/>
<circle cx="169.20" cy="547.10" r="4.5" fill="#fff" stroke="#0000ff" stroke-width="2"/>
<circle cx="195.90" cy="548.10" r="4.5" fill="#fff" stroke="#0000ff" stroke-width="2"/>
<circle cx="222.80" cy="548.80" r="4.5" fill="#fff" stroke="#0000ff" stroke-width="2"/>
<circle cx="249.10" cy="549.80" r="4.5" fill="#fff" stroke="#0000ff" stroke-width="2"/>
<circle cx="276.20" cy="551.20" r="4.5" fill="#fff" stroke="#0000ff" stroke-width="2"/>
<circle cx="303.10" cy="552.70" r="4.5" fill="#fff" stroke="#0000ff" stroke-width="2"/>
<circle cx="331.20" cy="554.80" r="4.5" fill="#fff" stroke="#0000ff" stroke-width="2"/>
<circle cx="356.90" cy="556.40" r="4.5" fill="#fff" stroke="#0000ff" stroke-width="2"/>
<circle cx="383.20" cy="559.10" r="4.5" fill="#fff" stroke="#0000ff" stroke-width="2"/>
<circle cx="410.00" cy="564.90" r="4.5" fill="#fff" stroke="#0000ff" stroke-width="2"/>
<circle cx="436.50" cy="574.20" r="4.5" fill="#fff" stroke="#0000ff" stroke-width="2"/>
<circle cx="463.40" cy="597.50" r="4.5" fill="#fff" stroke="#0000ff" stroke-width="2"/>
<circle cx="490.80" cy="661.10" r="4.5" fill="#fff" stroke="#0000ff" stroke-width="2"/>
<circle cx="517.30" cy="803.90" r="4.5" fill="#fff" stroke="#0000ff" stroke-width="2"/>
<path d="M85.88,533.04 L86.85,533.09 L87.82,533.13 L88.78,533.18 L89.75,533.22 L90.72,533.26 L91.69,533.31 L92.65,533.35 L93.62,533.39 L94.59,533.43 L95.56,533.47 L96.53,533.51 L97.50,533.55 L98.47,533.59 L99.44,533.63 L100.41,533.67 L101.38,533.70 L102.36,533.74 L103.33,533.78 L104.30,533.81 L105.27,533.85 L106.24,533.88 L107.22,533.92 L108.19,533.95 L109.16,533.98 L110.14,534.02 L111.11,534.05 L112.09,534.08 L113.06,534.11 L114.04,534.14 L115.01,534.17 L115.99,534.20 L116.96,534.23 L117.94,534.26 L118.91,534.29 L119.89,534.32 L120.86,534.35 L121.84,534.38 L122.82,534.40 L123.79,534.43 L124.77,534.46 L125.75,534.48 L126.73,534.51 L127.70,534.54 L128.68,534.56 L129.66,534.59 L130.64,534.61 L131.62,534.64 L132.60,534.66 L133.57,534.69 L134.55,534.71 L135.53,534.73 L136.51,534.76 L137.49,534.78 L138.47,534.80 L139.45,534.82 L140.43,534.85 L141.41,534.87 L142.39,534.89 L143.37,534.91 L144.35,534.93 L145.33,534.95 L146.31,534.98 L147.29,535.00 L148.27,535.02 L149.25,535.04 L150.24,535.06 L151.22,535.08 L152.20,535.10 L153.18,535.12 L154.16,535.14 L155.14,535.16 L156.12,535.18 L157.11,535.20 L158.09,535.22 L159.07,535.23 L160.05,535.25 L161.03,535.27 L162.01,535.29 L163.00,535.31 L163.98,535.33 L164.96,535.35 L165.94,535.37 L166.92,535.39 L167.91,535.40 L168.89,535.42 L169.87,535.44 L170.85,535.46 L171.84,535.48 L172.82,535.50 L173.80,535.52 L174.78,535.54 L175.77,535.55 L176.75,535.57 L177.73,535.59 L178.71,535.61 L179.69,535.63 L180.68,535.65 L181.66,535.67 L182.64,535.69 L183.62,535.71 L184.60,535.72 L185.59,535.74 L186.57,535.76 L187.55,535.78 L188.53,535.80 L189.51,535.82 L190.50,535.84 L191.48,535.86 L192.46,535.88 L193.44,535.90 L194.42,535.92 L195.40,535.95 L196.38,535.97 L197.37,535.99 L198.35,536.01 L199.33,536.03 L200.31,536.05 L201.29,536.07 L202.27,536.10 L203.25,536.12 L204.23,536.14 L205.21,536.16 L206.19,536.19 L207.17,536.21 L208.15,536.23 L209.13,536.26 L210.11,536.28 L211.09,536.31 L212.07,536.33 L213.05,536.36 L214.03,536.38 L215.01,536.41 L215.99,536.44 L216.97,536.46 L217.94,536.49 L218.92,536.52 L219.90,536.54 L220.88,536.57 L221.86,536.60 L222.83,536.63 L223.81,536.66 L224.79,536.69 L225.76,536.72 L226.74,536.75 L227.72,536.78 L228.69,536.81 L229.67,536.84 L230.65,536.87 L231.62,536.90 L232.60,536.94 L233.57,536.97 L234.55,537.00 L235.52,537.04 L236.50,537.07 L237.47,537.11 L238.44,537.14 L239.42,537.18 L240.39,537.22 L241.36,537.25 L242.34,537.29 L243.31,537.33 L244.28,537.37 L245.25,537.41 L246.23,537.45 L247.20,537.49 L248.17,537.53 L249.14,537.57 L250.11,537.61 L251.08,537.66 L252.05,537.70 L253.02,537.74 L253.99,537.79 L254.96,537.83 L255.93,537.87 L256.90,537.92 L257.87,537.97 L258.84,538.01 L259.81,538.06 L260.78,538.10 L261.74,538.15 L262.71,538.20 L263.68,538.25 L264.65,538.29 L265.62,538.34 L266.59,538.39 L267.55,538.44 L268.52,538.49 L269.49,538.54 L270.46,538.59 L271.42,538.64 L272.39,538.69 L273.36,538.74 L274.33,538.79 L275.30,538.84 L276.26,538.89 L277.23,538.94 L278.20,538.99 L279.17,539.04 L280.14,539.09 L281.10,539.15 L282.07,539.20 L283.04,539.25 L284.01,539.30 L284.98,539.35 L285.95,539.40 L286.91,539.46 L287.88,539.51 L288.85,539.56 L289.82,539.61 L290.79,539.66 L291.76,539.72 L292.73,539.77 L293.70,539.82 L294.67,539.87 L295.64,539.92 L296.61,539.97 L297.58,540.03 L298.55,540.08 L299.52,540.13 L300.50,540.18 L301.47,540.23 L302.44,540.28 L303.41,540.33 L304.38,540.38 L305.36,540.43 L306.33,540.48 L307.30,540.53 L308.28,540.58 L309.25,540.63 L310.23,540.68 L311.20,540.73 L312.18,540.78 L313.15,540.82 L314.13,540.87 L315.11,540.92 L316.08,540.97 L317.06,541.01 L318.04,541.06 L319.02,541.11 L320.00,541.15 L320.98,541.20 L321.96,541.24 L322.94,541.29 L323.92,541.33 L324.90,541.37 L325.88,541.42 L326.86,541.46 L327.85,541.50 L328.83,541.54 L329.81,541.59 L330.80,541.63 L331.78,541.67 L332.77,541.71 L333.76,541.75 L334.74,541.78 L335.73,541.82 L336.72,541.86 L337.71,541.90 L338.70,541.93 L339.69,541.97 L340.68,542.01 L341.67,542.04 L342.66,542.08 L343.65,542.12 L344.64,542.15 L345.63,542.19 L346.62,542.23 L347.62,542.26 L348.61,542.30 L349.60,542.34 L350.60,542.38 L351.59,542.42 L352.58,542.46 L353.58,542.51 L354.57,542.55 L355.56,542.59 L356.56,542.64 L357.55,542.69 L358.54,542.74 L359.53,542.79 L360.53,542.84 L361.52,542.89 L362.51,542.95 L363.50,543.01 L364.50,543.07 L365.49,543.13 L366.48,543.19 L367.47,543.26 L368.46,543.33 L369.45,543.40 L370.44,543.47 L371.42,543.55 L372.41,543.63 L373.40,543.71 L374.39,543.79 L375.37,543.88 L376.36,543.97 L377.34,544.07 L378.33,544.16 L379.31,544.26 L380.29,544.37 L381.27,544.47 L382.25,544.59 L383.23,544.70 L384.21,544.82 L385.19,544.94 L386.16,545.07 L387.14,545.20 L388.11,545.33 L389.09,545.47 L390.06,545.62 L391.03,545.77 L392.00,545.92 L392.97,546.07 L393.93,546.24 L394.90,546.40 L395.86,546.57 L396.83,546.75 L397.79,546.93 L398.75,547.12 L399.70,547.31 L400.66,547.51 L401.62,547.71 L402.57,547.92 L403.52,548.13 L404.47,548.35 L405.42,548.58 L406.37,548.81 L407.31,549.05 L408.26,549.29 L409.20,549.54 L410.14,549.80 L411.08,550.06 L412.01,550.33 L412.95,550.60 L413.88,550.88 L414.81,551.17 L415.74,551.47 L416.66,551.77 L417.59,552.08 L418.51,552.39 L419.43,552.72 L420.34,553.05 L421.26,553.38 L422.17,553.73 L423.08,554.08 L423.99,554.44 L424.89,554.81 L425.80,555.18 L426.69,555.57 L427.59,555.96 L428.48,556.36 L429.37,556.76 L430.25,557.17 L431.13,557.59 L432.00,558.02 L432.87,558.46 L433.74,558.90 L434.60,559.36 L435.45,559.82 L436.30,560.28 L437.15,560.76 L437.99,561.24 L438.82,561.74 L439.64,562.24 L440.47,562.74 L441.28,563.26 L442.09,563.78 L442.89,564.32 L443.68,564.86 L444.47,565.41 L445.25,565.96 L446.02,566.53 L446.78,567.10 L447.54,567.69 L448.28,568.28 L449.02,568.88 L449.76,569.49 L450.48,570.10 L451.19,570.73 L451.90,571.36 L452.59,572.00 L453.28,572.65 L453.95,573.31 L454.62,573.98 L455.28,574.66 L455.92,575.34 L456.56,576.04 L457.19,576.74 L457.81,577.45 L458.42,578.17 L459.03,578.89 L459.62,579.63 L460.21,580.37 L460.78,581.11 L461.35,581.87 L461.91,582.63 L462.46,583.40 L463.01,584.18 L463.55,584.96 L464.07,585.75 L464.60,586.54 L465.11,587.35 L465.62,588.15 L466.12,588.97 L466.61,589.79 L467.09,590.61 L467.57,591.45 L468.04,592.28 L468.51,593.12 L468.97,593.97 L469.42,594.83 L469.86,595.68 L470.30,596.55 L470.74,597.41 L471.17,598.29 L471.59,599.16 L472.00,600.04 L472.41,600.93 L472.82,601.82 L473.22,602.71 L473.61,603.61 L474.00,604.51 L474.39,605.42 L474.77,606.32 L475.14,607.23 L475.51,608.15 L475.88,609.07 L476.24,609.99 L476.60,610.91 L476.95,611.84 L477.30,612.77 L477.65,613.70 L477.99,614.63 L478.33,615.56 L478.66,616.50 L478.99,617.44 L479.32,618.38 L479.64,619.33 L479.97,620.27 L480.28,621.21 L480.60,622.16 L480.91,623.11 L481.22,624.06 L481.53,625.01 L481.84,625.96 L482.14,626.91 L482.44,627.86 L482.74,628.81 L483.04,629.76 L483.33,630.72 L483.63,631.67 L483.92,632.62 L484.21,633.57 L484.50,634.53 L484.79,635.48 L485.07,636.43 L485.36,637.38 L485.64,638.34 L485.92,639.29 L486.20,640.24 L486.48,641.19 L486.75,642.15 L487.03,643.10 L487.30,644.05 L487.57,645.01 L487.84,645.96 L488.11,646.91 L488.37,647.86 L488.64,648.82 L488.90,649.77 L489.16,650.72 L489.42,651.68 L489.68,652.63 L489.94,653.59 L490.19,654.54 L490.45,655.49 L490.70,656.45 L490.95,657.40 L491.20,658.35 L491.45,659.31 L491.69,660.26 L491.94,661.22 L492.18,662.17 L492.42,663.13 L492.66,664.08 L492.90,665.03 L493.14,665.99 L493.37,666.94 L493.61,667.90 L493.84,668.85 L494.07,669.81 L494.30,670.76 L494.53,671.72 L494.76,672.67 L494.99,673.63 L495.21,674.58 L495.43,675.54 L495.66,676.49 L495.88,677.45 L496.10,678.40 L496.31,679.36 L496.53,680.32 L496.75,681.27 L496.96,682.23 L497.17,683.18 L497.38,684.14 L497.59,685.10 L497.80,686.05 L498.01,687.01 L498.22,687.96 L498.42,688.92 L498.63,689.88 L498.83,690.83 L499.03,691.79 L499.23,692.75 L499.43,693.71 L499.63,694.66 L499.82,695.62 L500.02,696.58 L500.21,697.53 L500.41,698.49 L500.60,699.45 L500.79,700.41 L500.98,701.36 L501.17,702.32 L501.35,703.28 L501.54,704.24 L501.72,705.20 L501.91,706.15 L502.09,707.11 L502.27,708.07 L502.45,709.03 L502.63,709.99 L502.81,710.95 L502.99,711.90 L503.16,712.86 L503.34,713.82 L503.51,714.78 L503.69,715.74 L503.86,716.70 L504.03,717.66 L504.20,718.62 L504.37,719.58 L504.54,720.54 L504.70,721.50 L504.87,722.46 L505.03,723.42 L505.20,724.38 L505.36,725.34 L505.52,726.30 L505.69,727.26 L505.85,728.22 L506.01,729.18 L506.16,730.14 L506.32,731.10 L506.48,732.06 L506.63,733.02 L506.79,733.98 L506.94,734.94 L507.10,735.90 L507.25,736.86 L507.40,737.83 L507.55,738.79 L507.70,739.75 L507.85,740.71 L508.00,741.67 L508.14,742.64 L508.29,743.60 L508.43,744.56 L508.58,745.52 L508.72,746.48 L508.87,747.45 L509.01,748.41 L509.15,749.37 L509.29,750.34 L509.43,751.30 L509.57,752.26 L509.71,753.22 L509.85,754.19 L509.98,755.15 L510.12,756.12 L510.26,757.08 L510.39,758.04 L510.53,759.01 L510.66,759.97 L510.79,760.94 L510.92,761.90 L511.06,762.86 L511.19,763.83 L511.32,764.79 L511.45,765.76 L511.58,766.72 L511.70,767.69 L511.83,768.65 L511.96,769.62 L512.09,770.58 L512.21,771.55 L512.34,772.52 L512.46,773.48 L512.59,774.45 L512.71,775.41 L512.83,776.38 L512.96,777.35 L513.08,778.31 L513.20,779.28 L513.32,780.25 L513.44,781.21 L513.56,782.18 L513.68,783.15 L513.80,784.11 L513.92,785.08 L514.04,786.05 L514.16,787.02 L514.27,787.98 L514.39,788.95 L514.51,789.92 L514.62,790.89 L514.74,791.86 L514.85,792.82 L514.97,793.79 L515.08,794.76 L515.20,795.73 L515.31,796.70 L515.42,797.67 L515.53,798.64 L515.65,799.61 L515.76,800.58 L515.87,801.55 L515.98,802.52 L516.09,803.49 L516.20,804.46 L516.31,805.43 L516.42,806.40 L516.53,807.37 L516.64,808.34 L516.75,809.31 L516.86,810.28 L516.97,811.25 L517.08,812.22 L517.18,813.19 L517.29,814.17 L517.40,815.14 L517.51,816.11 L517.61,817.08 L517.72,818.05 L517.83,819.03 L517.93,820.00 L518.04,820.97 L518.15,821.94 L518.25,822.92 L518.36,823.89 L518.46,824.86 L518.57,825.84 L518.67,826.81 L518.78,827.78 L518.88,828.76 L518.99,829.73 L519.09,830.70 L519.20,831.68 L519.30,832.65 L519.41,833.63 L519.51,834.60 L519.62,835.58 L519.72,836.55 L519.82,837.53 L519.93,838.50 L520.03,839.48 L520.14,840.45 L520.24,841.43 L520.34,842.41 L520.45,843.38 L520.55,844.36 L520.65,845.33 L520.76,846.31 L520.86,847.29 L520.97,848.26 L521.07,849.24 L521.17,850.22 L521.28,851.20 L521.38,852.17 L521.49,853.15 L521.59,854.13 L521.69,855.11 L521.80,856.09 L521.90,857.06 L522.01,858.04 L522.11,859.02 L522.22,860.00 L522.32,860.98 L522.43,861.96 L522.53,862.94 L522.64,863.92 L522.74,864.90 L522.85,865.88 L522.95,866.86 L523.06,867.84 L523.17,868.82 L523.27,869.80" fill="none" stroke="#ff0000" stroke-width="2.65"/>
<polygon points="86.10,527.00 91.70,536.30 80.50,536.30" fill="#fff" stroke="#ff0000" stroke-width="2"/>
<polygon points="108.80,527.50 114.40,536.80 103.20,536.80" fill="#fff" stroke="#ff0000" stroke-width="2"/>
<polygon points="131.60,528.40 137.20,537.70 126.00,537.70" fill="#fff" stroke="#ff0000" stroke-width="2"/>
<polygon points="154.20,528.90 159.80,538.20 148.60,538.20" fill="#fff" stroke="#ff0000" stroke-width="2"/>
<polygon points="176.80,529.40 182.40,538.70 171.20,538.70" fill="#fff" stroke="#ff0000" stroke-width="2"/>
<polygon points="199.40,530.00 205.00,539.30 193.80,539.30" fill="#fff" stroke="#ff0000" stroke-width="2"/>
<polygon points="222.00,530.60 227.60,539.90 216.40,539.90" fill="#fff" stroke="#ff0000" stroke-width="2"/>
<polygon points="244.80,531.40 250.40,540.70 239.20,540.70" fill="#fff" stroke="#ff0000" stroke-width="2"/>
<polygon points="267.80,532.10 273.40,541.40 262.20,541.40" fill="#fff" stroke="#ff0000" stroke-width="2"/>
<polygon points="290.40,533.00 296.00,542.30 284.80,542.30" fill="#fff" stroke="#ff0000" stroke-width="2"/>
<polygon points="313.20,534.20 318.80,543.50 307.60,543.50" fill="#fff" stroke="#ff0000" stroke-width="2"/>
<polygon points="335.30,535.40 340.90,544.70 329.70,544.70" fill="#fff" stroke="#ff0000" stroke-width="2"/>
<polygon points="358.00,537.10 363.60,546.40 352.40,546.40" fill="#fff" stroke="#ff0000" stroke-width="2"/>
<polygon points="380.30,539.00 385.90,548.30 374.70,548.30" fill="#fff" stroke="#ff0000" stroke-width="2"/>
<polygon points="403.90,542.50 409.50,551.80 398.30,551.80" fill="#fff" stroke="#ff0000" stroke-width="2"/>
<polygon points="426.50,548.50 432.10,557.80 420.90,557.80" fill="#fff" stroke="#ff0000" stroke-width="2"/>
<polygon points="449.30,561.60 454.90,570.90 443.70,570.90" fill="#fff" stroke="#ff0000" stroke-width="2"/>
<polygon points="472.10,593.40 477.70,602.70 466.50,602.70" fill="#fff" stroke="#ff0000" stroke-width="2"/>
<polygon points="494.20,665.20 499.80,674.50 488.60,674.50" fill="#fff" stroke="#ff0000" stroke-width="2"/>
<polygon points="517.30,806.60 522.90,815.90 511.70,815.90" fill="#fff" stroke="#ff0000" stroke-width="2"/>
</g>
<text transform="translate(109.40,884.4) scale(0.89,1)" font-size="30" text-anchor="middle">0.0</text>
<text transform="translate(185.50,884.4) scale(0.89,1)" font-size="30" text-anchor="middle">0.2</text>
<text transform="translate(261.60,884.4) scale(0.89,1)" font-size="30" text-anchor="middle">0.4</text>
<text transform="translate(337.70,884.4) scale(0.89,1)" font-size="30" text-anchor="middle">0.6</text>
<text transform="translate(413.80,884.4) scale(0.89,1)" font-size="30" text-anchor="middle">0.8</text>
<text transform="translate(489.90,884.4) scale(0.89,1)" font-size="30" text-anchor="middle">1.0</text>
<text transform="translate(566.00,884.4) scale(0.89,1)" font-size="30" text-anchor="middle">1.2</text>
<text transform="translate(82.5,863.30) scale(0.89,1)" font-size="30" text-anchor="end">-5</text>
<text transform="translate(82.5,804.80) scale(0.89,1)" font-size="30" text-anchor="end">0</text>
<text transform="translate(82.5,746.30) scale(0.89,1)" font-size="30" text-anchor="end">5</text>
<text transform="translate(82.5,687.80) scale(0.89,1)" font-size="30" text-anchor="end">10</text>
<text transform="translate(82.5,629.30) scale(0.89,1)" font-size="30" text-anchor="end">15</text>
<text transform="translate(82.5,570.80) scale(0.89,1)" font-size="30" text-anchor="end">20</text>
<text transform="translate(82.5,512.30) scale(0.89,1)" font-size="30" text-anchor="end">25</text>
<text x="327" y="926.6" font-size="34.6" text-anchor="middle">Voltage (V)</text>
<line x1="144" y1="658.30" x2="188" y2="658.30" stroke="#999999" stroke-width="2.5"/>
<rect x="161.80" y="654.30" width="8" height="8" fill="#fff" stroke="#999999" stroke-width="1.8"/>
<text x="193" y="665.30" font-size="19.3">PTAA</text>
<line x1="144" y1="681.50" x2="188" y2="681.50" stroke="#0000ff" stroke-width="2.5"/>
<circle cx="165.80" cy="681.50" r="4.5" fill="#fff" stroke="#0000ff" stroke-width="2"/>
<text x="193" y="688.50" font-size="19.3">PTAA+TACB</text>
<line x1="144" y1="704.70" x2="188" y2="704.70" stroke="#ff0000" stroke-width="2.5"/>
<polygon points="165.80,698.50 171.40,707.80 160.20,707.80" fill="#fff" stroke="#ff0000" stroke-width="2"/>
<text x="193" y="711.70" font-size="19.3">PTAA+TTAI</text>
<text transform="translate(31.6,379.2) rotate(-90) scale(0.926,1)" font-size="37" text-anchor="start">Current density (mAcm<tspan font-size="20.4" dx="1.5" dy="-17">-2</tspan><tspan font-size="34.5" dx="1.5" dy="17">)</tspan></text>
<text transform="translate(35.1,869.2) rotate(-90) scale(0.926,1)" font-size="37" text-anchor="start">Current density (mAcm<tspan font-size="20.4" dx="1.5" dy="-17">-2</tspan><tspan font-size="34.5" dx="1.5" dy="17">)</tspan></text>
</svg>
</body></html>
